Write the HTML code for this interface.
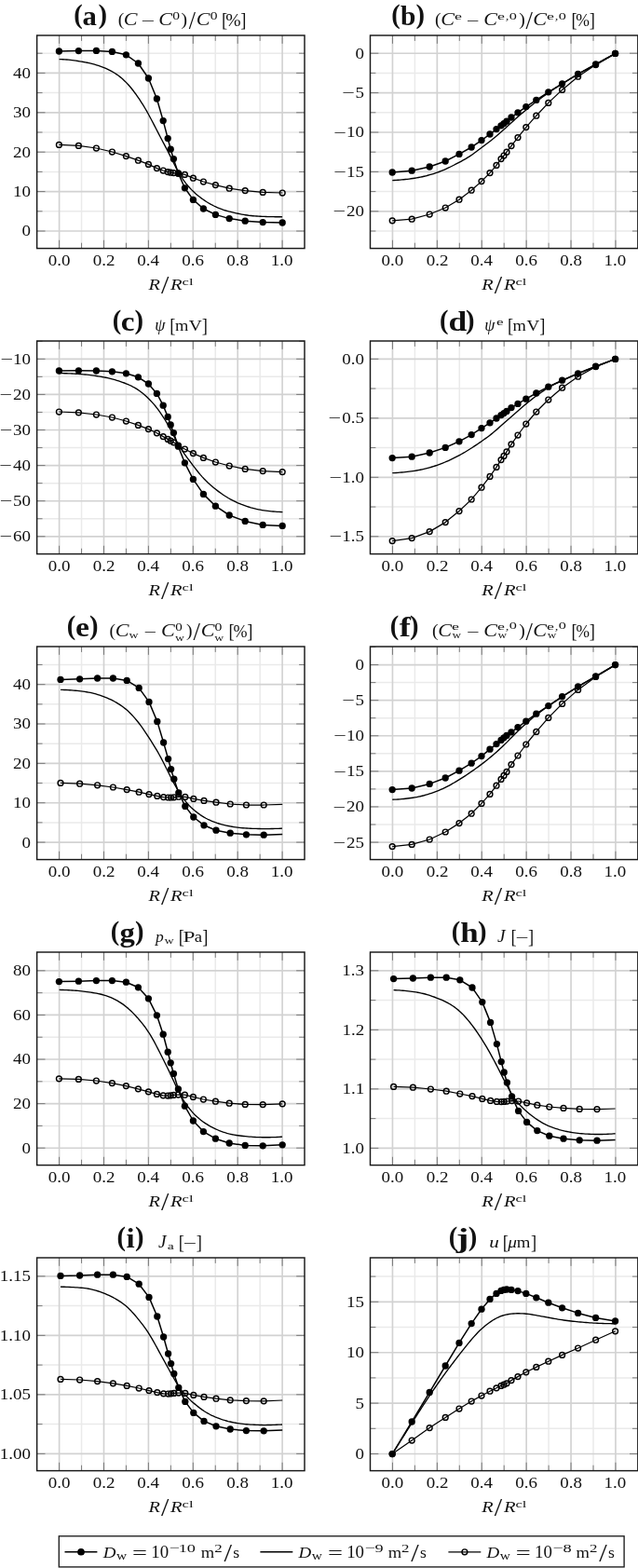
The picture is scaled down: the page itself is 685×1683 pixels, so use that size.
<!DOCTYPE html>
<html><head><meta charset="utf-8"><title>Figure</title>
<style>html,body{margin:0;padding:0;background:#fff}svg{display:block}text{font-family:"Liberation Serif",serif;fill:#111}</style>
</head><body>
<svg width="685" height="1683" viewBox="0 0 685 1683">
<rect width="685" height="1683" fill="#fff"/>
<path d="M87.55 38V266.6M135.45 38V266.6M183.35 38V266.6M231.25 38V266.6M279.15 38V266.6M39.65 226.8H327M39.65 184.4H327M39.65 142H327M39.65 99.6H327M39.65 57.2H327" stroke="#eaeaea" stroke-width="1.5" fill="none"/>
<path d="M63.6 38V266.6M111.5 38V266.6M159.4 38V266.6M207.3 38V266.6M255.2 38V266.6M303.1 38V266.6M39.65 248H327M39.65 205.6H327M39.65 163.2H327M39.65 120.8H327M39.65 78.4H327" stroke="#d2d2d2" stroke-width="1.65" fill="none"/>
<path d="M87.55 38v5.9 M87.55 266.6v-5.9M135.45 38v5.9 M135.45 266.6v-5.9M183.35 38v5.9 M183.35 266.6v-5.9M231.25 38v5.9 M231.25 266.6v-5.9M279.15 38v5.9 M279.15 266.6v-5.9M39.65 226.8h5.9 M327 226.8h-5.9M39.65 184.4h5.9 M327 184.4h-5.9M39.65 142h5.9 M327 142h-5.9M39.65 99.6h5.9 M327 99.6h-5.9M39.65 57.2h5.9 M327 57.2h-5.9M63.6 38v8.85 M63.6 266.6v-8.85M111.5 38v8.85 M111.5 266.6v-8.85M159.4 38v8.85 M159.4 266.6v-8.85M207.3 38v8.85 M207.3 266.6v-8.85M255.2 38v8.85 M255.2 266.6v-8.85M303.1 38v8.85 M303.1 266.6v-8.85M39.65 248h8.85 M327 248h-8.85M39.65 205.6h8.85 M327 205.6h-8.85M39.65 163.2h8.85 M327 163.2h-8.85M39.65 120.8h8.85 M327 120.8h-8.85M39.65 78.4h8.85 M327 78.4h-8.85" stroke="#6e6e6e" stroke-width="0.9" fill="none"/>
<path d="M63.6 63.64 L65.6 63.69 L67.6 63.77 L69.6 63.87 L71.6 64 L73.6 64.15 L75.6 64.35 L77.6 64.58 L79.6 64.85 L81.6 65.16 L83.6 65.48 L85.6 65.82 L87.6 66.17 L89.6 66.52 L91.6 66.88 L93.6 67.27 L95.6 67.68 L97.6 68.14 L99.6 68.64 L101.6 69.19 L103.6 69.78 L105.6 70.42 L107.6 71.1 L109.6 71.83 L111.6 72.6 L113.6 73.43 L115.6 74.33 L117.6 75.3 L119.6 76.34 L121.6 77.48 L123.6 78.72 L125.6 80.07 L127.6 81.53 L129.6 83.11 L131.6 84.82 L133.6 86.66 L135.6 88.64 L137.6 90.77 L139.6 93.05 L141.6 95.48 L143.6 98.04 L145.6 100.73 L147.6 103.55 L149.6 106.48 L151.6 109.54 L153.6 112.72 L155.6 116.02 L157.6 119.46 L159.6 123.03 L161.6 126.72 L163.6 130.5 L165.6 134.35 L167.6 138.23 L169.6 142.1 L171.6 145.96 L173.6 149.78 L175.6 153.58 L177.6 157.39 L179.6 161.24 L181.6 165.17 L183.6 169.17 L185.6 173.22 L187.6 177.24 L189.6 181.14 L191.6 184.82 L193.6 188.22 L195.6 191.34 L197.6 194.19 L199.6 196.81 L201.6 199.24 L203.6 201.5 L205.6 203.61 L207.6 205.58 L209.6 207.43 L211.6 209.17 L213.6 210.8 L215.6 212.34 L217.6 213.79 L219.6 215.17 L221.6 216.48 L223.6 217.71 L225.6 218.88 L227.6 219.97 L229.6 220.99 L231.6 221.94 L233.6 222.82 L235.6 223.64 L237.6 224.4 L239.6 225.11 L241.6 225.77 L243.6 226.38 L245.6 226.95 L247.6 227.47 L249.6 227.96 L251.6 228.42 L253.6 228.86 L255.6 229.28 L257.6 229.69 L259.6 230.07 L261.6 230.43 L263.6 230.75 L265.6 231.04 L267.6 231.3 L269.6 231.52 L271.6 231.72 L273.6 231.89 L275.6 232.04 L277.6 232.16 L279.6 232.27 L281.6 232.35 L283.6 232.43 L285.6 232.49 L287.6 232.55 L289.6 232.6 L291.6 232.65 L293.6 232.69 L295.6 232.72 L297.6 232.75 L299.6 232.77 L301.6 232.78 L303.1 232.79" stroke="#000" stroke-width="1.35" fill="none" stroke-linejoin="round"/>
<path d="M63.4 155.4 L84.4 156.4 L103.4 159 L120.4 163 L135.4 167.6 L148.4 172.2 L159.4 176.4 L168.4 180.6 L175.2 183 L180.2 184.6 L183.2 185.2 L186.4 185.6 L191.4 186.2 L198.4 187.4 L207.4 191.2 L218.4 195 L231.4 198.6 L246.2 202.2 L263.2 204.6 L282.2 206.4 L303.2 207" stroke="#000" stroke-width="1.25" fill="none" stroke-linejoin="round"/>
<circle cx="63.4" cy="155.4" r="2.9" fill="none" stroke="#000" stroke-width="1.45"/>
<circle cx="84.4" cy="156.4" r="2.9" fill="none" stroke="#000" stroke-width="1.45"/>
<circle cx="103.4" cy="159" r="2.9" fill="none" stroke="#000" stroke-width="1.45"/>
<circle cx="120.4" cy="163" r="2.9" fill="none" stroke="#000" stroke-width="1.45"/>
<circle cx="135.4" cy="167.6" r="2.9" fill="none" stroke="#000" stroke-width="1.45"/>
<circle cx="148.4" cy="172.2" r="2.9" fill="none" stroke="#000" stroke-width="1.45"/>
<circle cx="159.4" cy="176.4" r="2.9" fill="none" stroke="#000" stroke-width="1.45"/>
<circle cx="168.4" cy="180.6" r="2.9" fill="none" stroke="#000" stroke-width="1.45"/>
<circle cx="175.2" cy="183" r="2.9" fill="none" stroke="#000" stroke-width="1.45"/>
<circle cx="180.2" cy="184.6" r="2.9" fill="none" stroke="#000" stroke-width="1.45"/>
<circle cx="183.2" cy="185.2" r="2.9" fill="none" stroke="#000" stroke-width="1.45"/>
<circle cx="186.4" cy="185.6" r="2.9" fill="none" stroke="#000" stroke-width="1.45"/>
<circle cx="191.4" cy="186.2" r="2.9" fill="none" stroke="#000" stroke-width="1.45"/>
<circle cx="198.4" cy="187.4" r="2.9" fill="none" stroke="#000" stroke-width="1.45"/>
<circle cx="207.4" cy="191.2" r="2.9" fill="none" stroke="#000" stroke-width="1.45"/>
<circle cx="218.4" cy="195" r="2.9" fill="none" stroke="#000" stroke-width="1.45"/>
<circle cx="231.4" cy="198.6" r="2.9" fill="none" stroke="#000" stroke-width="1.45"/>
<circle cx="246.2" cy="202.2" r="2.9" fill="none" stroke="#000" stroke-width="1.45"/>
<circle cx="263.2" cy="204.6" r="2.9" fill="none" stroke="#000" stroke-width="1.45"/>
<circle cx="282.2" cy="206.4" r="2.9" fill="none" stroke="#000" stroke-width="1.45"/>
<circle cx="303.2" cy="207" r="2.9" fill="none" stroke="#000" stroke-width="1.45"/>
<path d="M63.4 55 L84.4 54.6 L103.4 54.4 L120.4 55.4 L135.4 58.8 L148.4 68 L159.4 84 L168.4 106 L175.2 129.6 L180.2 148.6 L183.2 160.2 L186.4 170.6 L191.4 186 L198.4 201.8 L207.4 214.4 L218.4 224 L231.4 230.4 L246.2 234.6 L263.2 237.2 L282.2 238.6 L303.2 239" stroke="#000" stroke-width="1.5" fill="none" stroke-linejoin="round"/>
<circle cx="63.4" cy="55" r="3.65"/>
<circle cx="84.4" cy="54.6" r="3.65"/>
<circle cx="103.4" cy="54.4" r="3.65"/>
<circle cx="120.4" cy="55.4" r="3.65"/>
<circle cx="135.4" cy="58.8" r="3.65"/>
<circle cx="148.4" cy="68" r="3.65"/>
<circle cx="159.4" cy="84" r="3.65"/>
<circle cx="168.4" cy="106" r="3.65"/>
<circle cx="175.2" cy="129.6" r="3.65"/>
<circle cx="180.2" cy="148.6" r="3.65"/>
<circle cx="183.2" cy="160.2" r="3.65"/>
<circle cx="186.4" cy="170.6" r="3.65"/>
<circle cx="191.4" cy="186" r="3.65"/>
<circle cx="198.4" cy="201.8" r="3.65"/>
<circle cx="207.4" cy="214.4" r="3.65"/>
<circle cx="218.4" cy="224" r="3.65"/>
<circle cx="231.4" cy="230.4" r="3.65"/>
<circle cx="246.2" cy="234.6" r="3.65"/>
<circle cx="263.2" cy="237.2" r="3.65"/>
<circle cx="282.2" cy="238.6" r="3.65"/>
<circle cx="303.2" cy="239" r="3.65"/>
<rect x="39.65" y="38" width="287.35" height="228.6" fill="none" stroke="#181818" stroke-width="1.45"/>
<text transform="matrix(1.1800 0 0 1 51.73 285.10)" font-size="16.1">0.0</text>
<text transform="matrix(1.1800 0 0 1 99.79 285.10)" font-size="16.1">0.2</text>
<text transform="matrix(1.1800 0 0 1 147.31 285.10)" font-size="16.1">0.4</text>
<text transform="matrix(1.1800 0 0 1 195.36 285.10)" font-size="16.1">0.6</text>
<text transform="matrix(1.1800 0 0 1 243.33 285.10)" font-size="16.1">0.8</text>
<text transform="matrix(1.1800 0 0 1 290.75 285.10)" font-size="16.1">1.0</text>
<text transform="matrix(1.1686 0 0 1 159.43 311.30)" font-size="17.4" font-style="italic">R</text>
<text transform="matrix(1.1295 0 0 1 172.92 315.30)" font-size="26.8">/</text>
<text transform="matrix(1.1877 0 0 1 183.03 311.30)" font-size="17.4" font-style="italic">R</text>
<text transform="matrix(1.4769 0 0 1 195.60 306.00)" font-size="11.2">cl</text>
<text transform="matrix(1.1800 0 0 1 23.56 253.45)" font-size="16.1">0</text>
<text transform="matrix(1.1800 0 0 1 14.06 211.05)" font-size="16.1">10</text>
<text transform="matrix(1.1800 0 0 1 14.06 168.65)" font-size="16.1">20</text>
<text transform="matrix(1.1800 0 0 1 14.06 126.25)" font-size="16.1">30</text>
<text transform="matrix(1.1800 0 0 1 14.06 83.85)" font-size="16.1">40</text>
<text transform="matrix(1.0000 0 0 1 79.28 25.40)" font-size="28.6" font-weight="bold" fill="#000">(</text>
<text transform="matrix(1.0741 0 0 1 88.60 27.00)" font-size="28.6" font-weight="bold" fill="#000">a</text>
<text transform="matrix(1.0000 0 0 1 105.41 25.40)" font-size="28.6" font-weight="bold" fill="#000">)</text>
<text transform="matrix(1.0000 0 0 1 126.87 26.70)" font-size="19.6">(</text>
<text transform="matrix(1.2000 0 0 1 132.69 27.00)" font-size="18.4" font-style="italic">C</text>
<text transform="matrix(1.6263 0 0 1 151.50 28.00)" font-size="16">−</text>
<text transform="matrix(1.2000 0 0 1 170.29 27.00)" font-size="18.4" font-style="italic">C</text>
<text transform="matrix(1.2524 0 0 1 185.32 21.30)" font-size="12.4">0</text>
<text transform="matrix(1.0000 0 0 1 194.46 26.70)" font-size="19.6">)</text>
<text transform="matrix(0.9865 0 0 1 202.80 30.60)" font-size="26.3">/</text>
<text transform="matrix(1.2000 0 0 1 210.69 27.00)" font-size="18.4" font-style="italic">C</text>
<text transform="matrix(1.2524 0 0 1 225.72 21.30)" font-size="12.4">0</text>
<text transform="matrix(0.8500 0 0 1 237.91 28.30)" font-size="21.8">[</text>
<text transform="matrix(1.0055 0 0 1 242.31 27.70)" font-size="19.5">%</text>
<text transform="matrix(0.8500 0 0 1 258.25 28.30)" font-size="21.8">]</text>
<path d="M445.4 38V266.6M493.3 38V266.6M541.2 38V266.6M589.1 38V266.6M637 38V266.6M397.5 248H684.85M397.5 205.6H684.85M397.5 163.2H684.85M397.5 120.8H684.85M397.5 78.4H684.85" stroke="#eaeaea" stroke-width="1.5" fill="none"/>
<path d="M421.45 38V266.6M469.35 38V266.6M517.25 38V266.6M565.15 38V266.6M613.05 38V266.6M660.95 38V266.6M397.5 226.8H684.85M397.5 184.4H684.85M397.5 142H684.85M397.5 99.6H684.85M397.5 57.2H684.85" stroke="#d2d2d2" stroke-width="1.65" fill="none"/>
<path d="M445.4 38v5.9 M445.4 266.6v-5.9M493.3 38v5.9 M493.3 266.6v-5.9M541.2 38v5.9 M541.2 266.6v-5.9M589.1 38v5.9 M589.1 266.6v-5.9M637 38v5.9 M637 266.6v-5.9M397.5 248h5.9 M684.85 248h-5.9M397.5 205.6h5.9 M684.85 205.6h-5.9M397.5 163.2h5.9 M684.85 163.2h-5.9M397.5 120.8h5.9 M684.85 120.8h-5.9M397.5 78.4h5.9 M684.85 78.4h-5.9M421.45 38v8.85 M421.45 266.6v-8.85M469.35 38v8.85 M469.35 266.6v-8.85M517.25 38v8.85 M517.25 266.6v-8.85M565.15 38v8.85 M565.15 266.6v-8.85M613.05 38v8.85 M613.05 266.6v-8.85M660.95 38v8.85 M660.95 266.6v-8.85M397.5 226.8h8.85 M684.85 226.8h-8.85M397.5 184.4h8.85 M684.85 184.4h-8.85M397.5 142h8.85 M684.85 142h-8.85M397.5 99.6h8.85 M684.85 99.6h-8.85M397.5 57.2h8.85 M684.85 57.2h-8.85" stroke="#6e6e6e" stroke-width="0.9" fill="none"/>
<path d="M421.3 193.57 L423.3 193.48 L425.3 193.37 L427.3 193.25 L429.3 193.1 L431.3 192.93 L433.3 192.74 L435.3 192.53 L437.3 192.3 L439.3 192.05 L441.3 191.79 L443.3 191.51 L445.3 191.21 L447.3 190.89 L449.3 190.53 L451.3 190.15 L453.3 189.73 L455.3 189.27 L457.3 188.79 L459.3 188.27 L461.3 187.72 L463.3 187.15 L465.3 186.54 L467.3 185.9 L469.3 185.23 L471.3 184.51 L473.3 183.74 L475.3 182.93 L477.3 182.07 L479.3 181.16 L481.3 180.22 L483.3 179.24 L485.3 178.24 L487.3 177.23 L489.3 176.19 L491.3 175.15 L493.3 174.1 L495.3 173.03 L497.3 171.94 L499.3 170.82 L501.3 169.65 L503.3 168.42 L505.3 167.12 L507.3 165.74 L509.3 164.3 L511.3 162.8 L513.3 161.27 L515.3 159.74 L517.3 158.22 L519.3 156.71 L521.3 155.22 L523.3 153.73 L525.3 152.21 L527.3 150.66 L529.3 149.06 L531.3 147.42 L533.3 145.73 L535.3 144 L537.3 142.25 L539.3 140.48 L541.3 138.7 L543.3 136.92 L545.3 135.12 L547.3 133.32 L549.3 131.5 L551.3 129.68 L553.3 127.86 L555.3 126.06 L557.3 124.29 L559.3 122.57 L561.3 120.87 L563.3 119.2 L565.3 117.55 L567.3 115.91 L569.3 114.28 L571.3 112.66 L573.3 111.07 L575.3 109.51 L577.3 107.99 L579.3 106.49 L581.3 105.02 L583.3 103.55 L585.3 102.09 L587.3 100.63 L589.3 99.19 L591.3 97.79 L593.3 96.44 L595.3 95.13 L597.3 93.87 L599.3 92.63 L601.3 91.4 L603.3 90.17 L605.3 88.95 L607.3 87.72 L609.3 86.49 L611.3 85.26 L613.3 84.04 L615.3 82.82 L617.3 81.62 L619.3 80.44 L621.3 79.28 L623.3 78.13 L625.3 77.01 L627.3 75.89 L629.3 74.79 L631.3 73.7 L633.3 72.61 L635.3 71.53 L637.3 70.44 L639.3 69.34 L641.3 68.25 L643.3 67.15 L645.3 66.04 L647.3 64.93 L649.3 63.82 L651.3 62.71 L653.3 61.59 L655.3 60.48 L657.3 59.36 L659.3 58.24 L660.8 57.4" stroke="#000" stroke-width="1.35" fill="none" stroke-linejoin="round"/>
<path d="M421.2 236.8 L442.2 235.2 L461.2 230 L478.2 223 L493 214.2 L506.2 204.2 L517 194.6 L526 185.6 L533 177.4 L538 170.6 L541 167 L544 163.2 L549 156.6 L556 147.6 L564.8 136.6 L575.8 124.2 L588.8 110.4 L603.6 96.4 L620.6 82.2 L639.6 69.6 L660.6 57.4" stroke="#000" stroke-width="1.25" fill="none" stroke-linejoin="round"/>
<circle cx="421.2" cy="236.8" r="2.9" fill="none" stroke="#000" stroke-width="1.45"/>
<circle cx="442.2" cy="235.2" r="2.9" fill="none" stroke="#000" stroke-width="1.45"/>
<circle cx="461.2" cy="230" r="2.9" fill="none" stroke="#000" stroke-width="1.45"/>
<circle cx="478.2" cy="223" r="2.9" fill="none" stroke="#000" stroke-width="1.45"/>
<circle cx="493" cy="214.2" r="2.9" fill="none" stroke="#000" stroke-width="1.45"/>
<circle cx="506.2" cy="204.2" r="2.9" fill="none" stroke="#000" stroke-width="1.45"/>
<circle cx="517" cy="194.6" r="2.9" fill="none" stroke="#000" stroke-width="1.45"/>
<circle cx="526" cy="185.6" r="2.9" fill="none" stroke="#000" stroke-width="1.45"/>
<circle cx="533" cy="177.4" r="2.9" fill="none" stroke="#000" stroke-width="1.45"/>
<circle cx="538" cy="170.6" r="2.9" fill="none" stroke="#000" stroke-width="1.45"/>
<circle cx="541" cy="167" r="2.9" fill="none" stroke="#000" stroke-width="1.45"/>
<circle cx="544" cy="163.2" r="2.9" fill="none" stroke="#000" stroke-width="1.45"/>
<circle cx="549" cy="156.6" r="2.9" fill="none" stroke="#000" stroke-width="1.45"/>
<circle cx="556" cy="147.6" r="2.9" fill="none" stroke="#000" stroke-width="1.45"/>
<circle cx="564.8" cy="136.6" r="2.9" fill="none" stroke="#000" stroke-width="1.45"/>
<circle cx="575.8" cy="124.2" r="2.9" fill="none" stroke="#000" stroke-width="1.45"/>
<circle cx="588.8" cy="110.4" r="2.9" fill="none" stroke="#000" stroke-width="1.45"/>
<circle cx="603.6" cy="96.4" r="2.9" fill="none" stroke="#000" stroke-width="1.45"/>
<circle cx="620.6" cy="82.2" r="2.9" fill="none" stroke="#000" stroke-width="1.45"/>
<circle cx="639.6" cy="69.6" r="2.9" fill="none" stroke="#000" stroke-width="1.45"/>
<circle cx="660.6" cy="57.4" r="2.9" fill="none" stroke="#000" stroke-width="1.45"/>
<path d="M421.2 185 L442.2 183.2 L461.2 179 L478.2 173 L493 165.4 L506.2 158 L517 150.6 L526 144 L533 138.6 L538 134.8 L541 132.6 L544 130.2 L549 126 L556 120.8 L564.8 114.6 L575.8 107.4 L588.8 98.8 L603.6 89.8 L620.6 79.4 L639.6 69 L660.6 57.4" stroke="#000" stroke-width="1.5" fill="none" stroke-linejoin="round"/>
<circle cx="421.2" cy="185" r="3.65"/>
<circle cx="442.2" cy="183.2" r="3.65"/>
<circle cx="461.2" cy="179" r="3.65"/>
<circle cx="478.2" cy="173" r="3.65"/>
<circle cx="493" cy="165.4" r="3.65"/>
<circle cx="506.2" cy="158" r="3.65"/>
<circle cx="517" cy="150.6" r="3.65"/>
<circle cx="526" cy="144" r="3.65"/>
<circle cx="533" cy="138.6" r="3.65"/>
<circle cx="538" cy="134.8" r="3.65"/>
<circle cx="541" cy="132.6" r="3.65"/>
<circle cx="544" cy="130.2" r="3.65"/>
<circle cx="549" cy="126" r="3.65"/>
<circle cx="556" cy="120.8" r="3.65"/>
<circle cx="564.8" cy="114.6" r="3.65"/>
<circle cx="575.8" cy="107.4" r="3.65"/>
<circle cx="588.8" cy="98.8" r="3.65"/>
<circle cx="603.6" cy="89.8" r="3.65"/>
<circle cx="620.6" cy="79.4" r="3.65"/>
<circle cx="639.6" cy="69" r="3.65"/>
<circle cx="660.6" cy="57.4" r="3.65"/>
<rect x="397.5" y="38" width="287.35" height="228.6" fill="none" stroke="#181818" stroke-width="1.45"/>
<text transform="matrix(1.1800 0 0 1 409.58 285.10)" font-size="16.1">0.0</text>
<text transform="matrix(1.1800 0 0 1 457.64 285.10)" font-size="16.1">0.2</text>
<text transform="matrix(1.1800 0 0 1 505.16 285.10)" font-size="16.1">0.4</text>
<text transform="matrix(1.1800 0 0 1 553.21 285.10)" font-size="16.1">0.6</text>
<text transform="matrix(1.1800 0 0 1 601.18 285.10)" font-size="16.1">0.8</text>
<text transform="matrix(1.1800 0 0 1 648.60 285.10)" font-size="16.1">1.0</text>
<text transform="matrix(1.1686 0 0 1 517.28 311.30)" font-size="17.4" font-style="italic">R</text>
<text transform="matrix(1.1295 0 0 1 530.77 315.30)" font-size="26.8">/</text>
<text transform="matrix(1.1877 0 0 1 540.88 311.30)" font-size="17.4" font-style="italic">R</text>
<text transform="matrix(1.4769 0 0 1 553.45 306.00)" font-size="11.2">cl</text>
<text transform="matrix(1.1800 0 0 1 371.91 232.25)" font-size="16.1">20</text>
<text transform="matrix(1.5 0 0 1 371.03 232.45)" font-size="16.1" text-anchor="end">−</text>
<text transform="matrix(1.1800 0 0 1 371.96 189.85)" font-size="16.1">15</text>
<text transform="matrix(1.5 0 0 1 371.93 190.05)" font-size="16.1" text-anchor="end">−</text>
<text transform="matrix(1.1800 0 0 1 371.91 147.45)" font-size="16.1">10</text>
<text transform="matrix(1.5 0 0 1 371.88 147.65)" font-size="16.1" text-anchor="end">−</text>
<text transform="matrix(1.1800 0 0 1 381.46 105.05)" font-size="16.1">5</text>
<text transform="matrix(1.5 0 0 1 380.86 105.25)" font-size="16.1" text-anchor="end">−</text>
<text transform="matrix(1.1800 0 0 1 381.41 62.65)" font-size="16.1">0</text>
<text transform="matrix(1.0000 0 0 1 420.28 25.40)" font-size="28.6" font-weight="bold" fill="#000">(</text>
<text transform="matrix(1.0298 0 0 1 429.93 27.00)" font-size="28.6" font-weight="bold" fill="#000">b</text>
<text transform="matrix(1.0000 0 0 1 446.51 25.40)" font-size="28.6" font-weight="bold" fill="#000">)</text>
<text transform="matrix(1.0000 0 0 1 467.07 26.70)" font-size="19.6">(</text>
<text transform="matrix(1.2000 0 0 1 473.19 27.00)" font-size="18.4" font-style="italic">C</text>
<text transform="matrix(1.7838 0 0 1 487.99 20.80)" font-size="10">e</text>
<text transform="matrix(1.5323 0 0 1 500.87 28.00)" font-size="16">−</text>
<text transform="matrix(1.2000 0 0 1 519.29 27.00)" font-size="18.4" font-style="italic">C</text>
<text transform="matrix(1.7838 0 0 1 533.89 20.80)" font-size="10">e</text>
<text transform="matrix(1.4667 0 0 1 542.85 21.00)" font-size="10">,</text>
<text transform="matrix(1.6399 0 0 1 546.79 20.60)" font-size="9.9">0</text>
<text transform="matrix(1.0000 0 0 1 557.16 26.70)" font-size="19.6">)</text>
<text transform="matrix(1.0139 0 0 1 564.60 30.60)" font-size="26.3">/</text>
<text transform="matrix(1.2000 0 0 1 572.29 27.00)" font-size="18.4" font-style="italic">C</text>
<text transform="matrix(1.7838 0 0 1 586.99 20.80)" font-size="10">e</text>
<text transform="matrix(1.4667 0 0 1 595.85 21.00)" font-size="10">,</text>
<text transform="matrix(1.6399 0 0 1 599.79 20.60)" font-size="9.9">0</text>
<text transform="matrix(0.8500 0 0 1 613.51 28.30)" font-size="21.8">[</text>
<text transform="matrix(0.9050 0 0 1 618.28 27.70)" font-size="19.5">%</text>
<text transform="matrix(0.8500 0 0 1 632.65 28.30)" font-size="21.8">]</text>
<path d="M87.55 366V594.6M135.45 366V594.6M183.35 366V594.6M231.25 366V594.6M279.15 366V594.6M39.65 556.75H327M39.65 518.65H327M39.65 480.55H327M39.65 442.45H327M39.65 404.35H327M39.65 366.25H327" stroke="#eaeaea" stroke-width="1.5" fill="none"/>
<path d="M63.6 366V594.6M111.5 366V594.6M159.4 366V594.6M207.3 366V594.6M255.2 366V594.6M303.1 366V594.6M39.65 575.8H327M39.65 537.7H327M39.65 499.6H327M39.65 461.5H327M39.65 423.4H327M39.65 385.3H327" stroke="#d2d2d2" stroke-width="1.65" fill="none"/>
<path d="M87.55 366v5.9 M87.55 594.6v-5.9M135.45 366v5.9 M135.45 594.6v-5.9M183.35 366v5.9 M183.35 594.6v-5.9M231.25 366v5.9 M231.25 594.6v-5.9M279.15 366v5.9 M279.15 594.6v-5.9M39.65 556.75h5.9 M327 556.75h-5.9M39.65 518.65h5.9 M327 518.65h-5.9M39.65 480.55h5.9 M327 480.55h-5.9M39.65 442.45h5.9 M327 442.45h-5.9M39.65 404.35h5.9 M327 404.35h-5.9M39.65 366.25h5.9 M327 366.25h-5.9M63.6 366v8.85 M63.6 594.6v-8.85M111.5 366v8.85 M111.5 594.6v-8.85M159.4 366v8.85 M159.4 594.6v-8.85M207.3 366v8.85 M207.3 594.6v-8.85M255.2 366v8.85 M255.2 594.6v-8.85M303.1 366v8.85 M303.1 594.6v-8.85M39.65 575.8h8.85 M327 575.8h-8.85M39.65 537.7h8.85 M327 537.7h-8.85M39.65 499.6h8.85 M327 499.6h-8.85M39.65 461.5h8.85 M327 461.5h-8.85M39.65 423.4h8.85 M327 423.4h-8.85M39.65 385.3h8.85 M327 385.3h-8.85" stroke="#6e6e6e" stroke-width="0.9" fill="none"/>
<path d="M63.4 400.62 L65.4 400.65 L67.4 400.68 L69.4 400.73 L71.4 400.79 L73.4 400.86 L75.4 400.94 L77.4 401.04 L79.4 401.14 L81.4 401.25 L83.4 401.37 L85.4 401.5 L87.4 401.65 L89.4 401.81 L91.4 401.99 L93.4 402.18 L95.4 402.4 L97.4 402.65 L99.4 402.91 L101.4 403.19 L103.4 403.49 L105.4 403.81 L107.4 404.14 L109.4 404.5 L111.4 404.87 L113.4 405.27 L115.4 405.7 L117.4 406.16 L119.4 406.65 L121.4 407.17 L123.4 407.72 L125.4 408.31 L127.4 408.93 L129.4 409.58 L131.4 410.27 L133.4 411 L135.4 411.77 L137.4 412.61 L139.4 413.5 L141.4 414.48 L143.4 415.53 L145.4 416.67 L147.4 417.92 L149.4 419.27 L151.4 420.73 L153.4 422.31 L155.4 423.99 L157.4 425.79 L159.4 427.69 L161.4 429.7 L163.4 431.84 L165.4 434.12 L167.4 436.54 L169.4 439.13 L171.4 441.88 L173.4 444.78 L175.4 447.82 L177.4 451.01 L179.4 454.36 L181.4 457.9 L183.4 461.63 L185.4 465.51 L187.4 469.43 L189.4 473.27 L191.4 476.91 L193.4 480.28 L195.4 483.39 L197.4 486.29 L199.4 489.07 L201.4 491.8 L203.4 494.5 L205.4 497.18 L207.4 499.84 L209.4 502.45 L211.4 505 L213.4 507.47 L215.4 509.84 L217.4 512.09 L219.4 514.24 L221.4 516.27 L223.4 518.19 L225.4 520.02 L227.4 521.76 L229.4 523.44 L231.4 525.05 L233.4 526.61 L235.4 528.11 L237.4 529.56 L239.4 530.95 L241.4 532.28 L243.4 533.54 L245.4 534.74 L247.4 535.87 L249.4 536.94 L251.4 537.95 L253.4 538.91 L255.4 539.82 L257.4 540.67 L259.4 541.48 L261.4 542.23 L263.4 542.94 L265.4 543.61 L267.4 544.24 L269.4 544.84 L271.4 545.39 L273.4 545.91 L275.4 546.39 L277.4 546.82 L279.4 547.21 L281.4 547.56 L283.4 547.87 L285.4 548.15 L287.4 548.4 L289.4 548.63 L291.4 548.84 L293.4 549.02 L295.4 549.18 L297.4 549.31 L299.4 549.42 L301.4 549.5 L303.4 549.56" stroke="#000" stroke-width="1.35" fill="none" stroke-linejoin="round"/>
<path d="M63.4 442 L84.4 442.8 L103.4 445 L120.4 448 L135.4 452 L148.4 456.4 L159.4 460.6 L168.4 464.8 L175.2 468.6 L180.2 471.4 L183.2 473.2 L186.4 474.8 L191.4 478 L198.4 482 L207.4 486.6 L218.4 491.4 L231.4 496 L246.2 500 L263.2 503.4 L282.2 505.6 L303.2 506.6" stroke="#000" stroke-width="1.25" fill="none" stroke-linejoin="round"/>
<circle cx="63.4" cy="442" r="2.9" fill="none" stroke="#000" stroke-width="1.45"/>
<circle cx="84.4" cy="442.8" r="2.9" fill="none" stroke="#000" stroke-width="1.45"/>
<circle cx="103.4" cy="445" r="2.9" fill="none" stroke="#000" stroke-width="1.45"/>
<circle cx="120.4" cy="448" r="2.9" fill="none" stroke="#000" stroke-width="1.45"/>
<circle cx="135.4" cy="452" r="2.9" fill="none" stroke="#000" stroke-width="1.45"/>
<circle cx="148.4" cy="456.4" r="2.9" fill="none" stroke="#000" stroke-width="1.45"/>
<circle cx="159.4" cy="460.6" r="2.9" fill="none" stroke="#000" stroke-width="1.45"/>
<circle cx="168.4" cy="464.8" r="2.9" fill="none" stroke="#000" stroke-width="1.45"/>
<circle cx="175.2" cy="468.6" r="2.9" fill="none" stroke="#000" stroke-width="1.45"/>
<circle cx="180.2" cy="471.4" r="2.9" fill="none" stroke="#000" stroke-width="1.45"/>
<circle cx="183.2" cy="473.2" r="2.9" fill="none" stroke="#000" stroke-width="1.45"/>
<circle cx="186.4" cy="474.8" r="2.9" fill="none" stroke="#000" stroke-width="1.45"/>
<circle cx="191.4" cy="478" r="2.9" fill="none" stroke="#000" stroke-width="1.45"/>
<circle cx="198.4" cy="482" r="2.9" fill="none" stroke="#000" stroke-width="1.45"/>
<circle cx="207.4" cy="486.6" r="2.9" fill="none" stroke="#000" stroke-width="1.45"/>
<circle cx="218.4" cy="491.4" r="2.9" fill="none" stroke="#000" stroke-width="1.45"/>
<circle cx="231.4" cy="496" r="2.9" fill="none" stroke="#000" stroke-width="1.45"/>
<circle cx="246.2" cy="500" r="2.9" fill="none" stroke="#000" stroke-width="1.45"/>
<circle cx="263.2" cy="503.4" r="2.9" fill="none" stroke="#000" stroke-width="1.45"/>
<circle cx="282.2" cy="505.6" r="2.9" fill="none" stroke="#000" stroke-width="1.45"/>
<circle cx="303.2" cy="506.6" r="2.9" fill="none" stroke="#000" stroke-width="1.45"/>
<path d="M63.4 398 L84.4 397.8 L103.4 398 L120.4 398.8 L135.4 400.8 L148.4 404.8 L159.4 412 L168.4 422.4 L175.2 435.2 L180.2 447.4 L183.2 456 L186.4 464.6 L191.4 479.2 L198.4 496.8 L207.4 514.4 L218.4 530.4 L231.4 543.2 L246.2 553 L263.2 559.4 L282.2 563.4 L303.2 564.4" stroke="#000" stroke-width="1.5" fill="none" stroke-linejoin="round"/>
<circle cx="63.4" cy="398" r="3.65"/>
<circle cx="84.4" cy="397.8" r="3.65"/>
<circle cx="103.4" cy="398" r="3.65"/>
<circle cx="120.4" cy="398.8" r="3.65"/>
<circle cx="135.4" cy="400.8" r="3.65"/>
<circle cx="148.4" cy="404.8" r="3.65"/>
<circle cx="159.4" cy="412" r="3.65"/>
<circle cx="168.4" cy="422.4" r="3.65"/>
<circle cx="175.2" cy="435.2" r="3.65"/>
<circle cx="180.2" cy="447.4" r="3.65"/>
<circle cx="183.2" cy="456" r="3.65"/>
<circle cx="186.4" cy="464.6" r="3.65"/>
<circle cx="191.4" cy="479.2" r="3.65"/>
<circle cx="198.4" cy="496.8" r="3.65"/>
<circle cx="207.4" cy="514.4" r="3.65"/>
<circle cx="218.4" cy="530.4" r="3.65"/>
<circle cx="231.4" cy="543.2" r="3.65"/>
<circle cx="246.2" cy="553" r="3.65"/>
<circle cx="263.2" cy="559.4" r="3.65"/>
<circle cx="282.2" cy="563.4" r="3.65"/>
<circle cx="303.2" cy="564.4" r="3.65"/>
<rect x="39.65" y="366" width="287.35" height="228.6" fill="none" stroke="#181818" stroke-width="1.45"/>
<text transform="matrix(1.1800 0 0 1 51.73 613.10)" font-size="16.1">0.0</text>
<text transform="matrix(1.1800 0 0 1 99.79 613.10)" font-size="16.1">0.2</text>
<text transform="matrix(1.1800 0 0 1 147.31 613.10)" font-size="16.1">0.4</text>
<text transform="matrix(1.1800 0 0 1 195.36 613.10)" font-size="16.1">0.6</text>
<text transform="matrix(1.1800 0 0 1 243.33 613.10)" font-size="16.1">0.8</text>
<text transform="matrix(1.1800 0 0 1 290.75 613.10)" font-size="16.1">1.0</text>
<text transform="matrix(1.1686 0 0 1 159.43 639.30)" font-size="17.4" font-style="italic">R</text>
<text transform="matrix(1.1295 0 0 1 172.92 643.30)" font-size="26.8">/</text>
<text transform="matrix(1.1877 0 0 1 183.03 639.30)" font-size="17.4" font-style="italic">R</text>
<text transform="matrix(1.4769 0 0 1 195.60 634.00)" font-size="11.2">cl</text>
<text transform="matrix(1.1800 0 0 1 14.06 581.25)" font-size="16.1">60</text>
<text transform="matrix(1.5 0 0 1 13.18 581.45)" font-size="16.1" text-anchor="end">−</text>
<text transform="matrix(1.1800 0 0 1 14.06 543.15)" font-size="16.1">50</text>
<text transform="matrix(1.5 0 0 1 13.46 543.35)" font-size="16.1" text-anchor="end">−</text>
<text transform="matrix(1.1800 0 0 1 14.06 505.05)" font-size="16.1">40</text>
<text transform="matrix(1.5 0 0 1 12.75 505.25)" font-size="16.1" text-anchor="end">−</text>
<text transform="matrix(1.1800 0 0 1 14.06 466.95)" font-size="16.1">30</text>
<text transform="matrix(1.5 0 0 1 13.27 467.15)" font-size="16.1" text-anchor="end">−</text>
<text transform="matrix(1.1800 0 0 1 14.06 428.85)" font-size="16.1">20</text>
<text transform="matrix(1.5 0 0 1 13.18 429.05)" font-size="16.1" text-anchor="end">−</text>
<text transform="matrix(1.1800 0 0 1 14.06 390.75)" font-size="16.1">10</text>
<text transform="matrix(1.5 0 0 1 14.03 390.95)" font-size="16.1" text-anchor="end">−</text>
<text transform="matrix(1.0000 0 0 1 120.68 353.40)" font-size="28.6" font-weight="bold" fill="#000">(</text>
<text transform="matrix(1.1625 0 0 1 129.84 355.00)" font-size="28.6" font-weight="bold" fill="#000">c</text>
<text transform="matrix(1.0000 0 0 1 144.61 353.40)" font-size="28.6" font-weight="bold" fill="#000">)</text>
<text transform="matrix(0.9186 0 0 1 166.23 354.90)" font-size="19.5" font-style="italic">ψ</text>
<text transform="matrix(0.8500 0 0 1 182.21 356.30)" font-size="21.8">[</text>
<text transform="matrix(1.0544 0 0 1 187.93 354.90)" font-size="17.5">m</text>
<text transform="matrix(1.1102 0 0 1 202.71 354.90)" font-size="17.5">V</text>
<text transform="matrix(0.8500 0 0 1 216.75 356.30)" font-size="21.8">]</text>
<path d="M445.4 366V594.6M493.3 366V594.6M541.2 366V594.6M589.1 366V594.6M637 366V594.6M397.5 544.05H684.85M397.5 480.55H684.85M397.5 417.05H684.85" stroke="#eaeaea" stroke-width="1.5" fill="none"/>
<path d="M421.45 366V594.6M469.35 366V594.6M517.25 366V594.6M565.15 366V594.6M613.05 366V594.6M660.95 366V594.6M397.5 575.8H684.85M397.5 512.3H684.85M397.5 448.8H684.85M397.5 385.3H684.85" stroke="#d2d2d2" stroke-width="1.65" fill="none"/>
<path d="M445.4 366v5.9 M445.4 594.6v-5.9M493.3 366v5.9 M493.3 594.6v-5.9M541.2 366v5.9 M541.2 594.6v-5.9M589.1 366v5.9 M589.1 594.6v-5.9M637 366v5.9 M637 594.6v-5.9M397.5 544.05h5.9 M684.85 544.05h-5.9M397.5 480.55h5.9 M684.85 480.55h-5.9M397.5 417.05h5.9 M684.85 417.05h-5.9M421.45 366v8.85 M421.45 594.6v-8.85M469.35 366v8.85 M469.35 594.6v-8.85M517.25 366v8.85 M517.25 594.6v-8.85M565.15 366v8.85 M565.15 594.6v-8.85M613.05 366v8.85 M613.05 594.6v-8.85M660.95 366v8.85 M660.95 594.6v-8.85M397.5 575.8h8.85 M684.85 575.8h-8.85M397.5 512.3h8.85 M684.85 512.3h-8.85M397.5 448.8h8.85 M684.85 448.8h-8.85M397.5 385.3h8.85 M684.85 385.3h-8.85" stroke="#6e6e6e" stroke-width="0.9" fill="none"/>
<path d="M421.3 507.67 L423.3 507.58 L425.3 507.47 L427.3 507.35 L429.3 507.2 L431.3 507.03 L433.3 506.84 L435.3 506.63 L437.3 506.4 L439.3 506.15 L441.3 505.89 L443.3 505.61 L445.3 505.31 L447.3 504.98 L449.3 504.63 L451.3 504.24 L453.3 503.81 L455.3 503.36 L457.3 502.87 L459.3 502.35 L461.3 501.8 L463.3 501.23 L465.3 500.63 L467.3 499.99 L469.3 499.32 L471.3 498.61 L473.3 497.86 L475.3 497.07 L477.3 496.25 L479.3 495.39 L481.3 494.51 L483.3 493.59 L485.3 492.65 L487.3 491.69 L489.3 490.69 L491.3 489.66 L493.3 488.6 L495.3 487.5 L497.3 486.37 L499.3 485.21 L501.3 484 L503.3 482.77 L505.3 481.51 L507.3 480.22 L509.3 478.9 L511.3 477.57 L513.3 476.21 L515.3 474.84 L517.3 473.46 L519.3 472.06 L521.3 470.63 L523.3 469.18 L525.3 467.68 L527.3 466.12 L529.3 464.51 L531.3 462.84 L533.3 461.13 L535.3 459.38 L537.3 457.6 L539.3 455.81 L541.3 454.02 L543.3 452.23 L545.3 450.45 L547.3 448.68 L549.3 446.92 L551.3 445.16 L553.3 443.4 L555.3 441.65 L557.3 439.9 L559.3 438.17 L561.3 436.46 L563.3 434.78 L565.3 433.13 L567.3 431.51 L569.3 429.92 L571.3 428.35 L573.3 426.8 L575.3 425.28 L577.3 423.8 L579.3 422.35 L581.3 420.95 L583.3 419.57 L585.3 418.24 L587.3 416.95 L589.3 415.72 L591.3 414.56 L593.3 413.47 L595.3 412.44 L597.3 411.47 L599.3 410.52 L601.3 409.6 L603.3 408.7 L605.3 407.79 L607.3 406.9 L609.3 406 L611.3 405.11 L613.3 404.23 L615.3 403.36 L617.3 402.49 L619.3 401.64 L621.3 400.79 L623.3 399.94 L625.3 399.11 L627.3 398.29 L629.3 397.47 L631.3 396.66 L633.3 395.85 L635.3 395.05 L637.3 394.26 L639.3 393.48 L641.3 392.7 L643.3 391.93 L645.3 391.16 L647.3 390.4 L649.3 389.64 L651.3 388.89 L653.3 388.15 L655.3 387.41 L657.3 386.68 L659.3 385.95 L660.8 385.41" stroke="#000" stroke-width="1.35" fill="none" stroke-linejoin="round"/>
<path d="M421.2 580.6 L442.2 577.6 L461.2 570.6 L478.2 560.6 L493 548.6 L506.2 536 L517 523.2 L526 511.4 L533 501.4 L538 493.6 L541 489.4 L544 484.8 L549 476.8 L556 467 L564.8 455 L575.8 442 L588.8 429 L603.6 416.2 L620.6 404.2 L639.6 393.6 L660.6 385.4" stroke="#000" stroke-width="1.25" fill="none" stroke-linejoin="round"/>
<circle cx="421.2" cy="580.6" r="2.9" fill="none" stroke="#000" stroke-width="1.45"/>
<circle cx="442.2" cy="577.6" r="2.9" fill="none" stroke="#000" stroke-width="1.45"/>
<circle cx="461.2" cy="570.6" r="2.9" fill="none" stroke="#000" stroke-width="1.45"/>
<circle cx="478.2" cy="560.6" r="2.9" fill="none" stroke="#000" stroke-width="1.45"/>
<circle cx="493" cy="548.6" r="2.9" fill="none" stroke="#000" stroke-width="1.45"/>
<circle cx="506.2" cy="536" r="2.9" fill="none" stroke="#000" stroke-width="1.45"/>
<circle cx="517" cy="523.2" r="2.9" fill="none" stroke="#000" stroke-width="1.45"/>
<circle cx="526" cy="511.4" r="2.9" fill="none" stroke="#000" stroke-width="1.45"/>
<circle cx="533" cy="501.4" r="2.9" fill="none" stroke="#000" stroke-width="1.45"/>
<circle cx="538" cy="493.6" r="2.9" fill="none" stroke="#000" stroke-width="1.45"/>
<circle cx="541" cy="489.4" r="2.9" fill="none" stroke="#000" stroke-width="1.45"/>
<circle cx="544" cy="484.8" r="2.9" fill="none" stroke="#000" stroke-width="1.45"/>
<circle cx="549" cy="476.8" r="2.9" fill="none" stroke="#000" stroke-width="1.45"/>
<circle cx="556" cy="467" r="2.9" fill="none" stroke="#000" stroke-width="1.45"/>
<circle cx="564.8" cy="455" r="2.9" fill="none" stroke="#000" stroke-width="1.45"/>
<circle cx="575.8" cy="442" r="2.9" fill="none" stroke="#000" stroke-width="1.45"/>
<circle cx="588.8" cy="429" r="2.9" fill="none" stroke="#000" stroke-width="1.45"/>
<circle cx="603.6" cy="416.2" r="2.9" fill="none" stroke="#000" stroke-width="1.45"/>
<circle cx="620.6" cy="404.2" r="2.9" fill="none" stroke="#000" stroke-width="1.45"/>
<circle cx="639.6" cy="393.6" r="2.9" fill="none" stroke="#000" stroke-width="1.45"/>
<circle cx="660.6" cy="385.4" r="2.9" fill="none" stroke="#000" stroke-width="1.45"/>
<path d="M421.2 491.6 L442.2 490.2 L461.2 486 L478.2 480.4 L493 473.8 L506.2 466.6 L517 459.6 L526 453.8 L533 449 L538 445.6 L541 443.6 L544 441.4 L549 437.6 L556 433.4 L564.8 428.2 L575.8 422 L588.8 415.2 L603.6 408.2 L620.6 400.8 L639.6 393.2 L660.6 385.4" stroke="#000" stroke-width="1.5" fill="none" stroke-linejoin="round"/>
<circle cx="421.2" cy="491.6" r="3.65"/>
<circle cx="442.2" cy="490.2" r="3.65"/>
<circle cx="461.2" cy="486" r="3.65"/>
<circle cx="478.2" cy="480.4" r="3.65"/>
<circle cx="493" cy="473.8" r="3.65"/>
<circle cx="506.2" cy="466.6" r="3.65"/>
<circle cx="517" cy="459.6" r="3.65"/>
<circle cx="526" cy="453.8" r="3.65"/>
<circle cx="533" cy="449" r="3.65"/>
<circle cx="538" cy="445.6" r="3.65"/>
<circle cx="541" cy="443.6" r="3.65"/>
<circle cx="544" cy="441.4" r="3.65"/>
<circle cx="549" cy="437.6" r="3.65"/>
<circle cx="556" cy="433.4" r="3.65"/>
<circle cx="564.8" cy="428.2" r="3.65"/>
<circle cx="575.8" cy="422" r="3.65"/>
<circle cx="588.8" cy="415.2" r="3.65"/>
<circle cx="603.6" cy="408.2" r="3.65"/>
<circle cx="620.6" cy="400.8" r="3.65"/>
<circle cx="639.6" cy="393.2" r="3.65"/>
<circle cx="660.6" cy="385.4" r="3.65"/>
<rect x="397.5" y="366" width="287.35" height="228.6" fill="none" stroke="#181818" stroke-width="1.45"/>
<text transform="matrix(1.1800 0 0 1 409.58 613.10)" font-size="16.1">0.0</text>
<text transform="matrix(1.1800 0 0 1 457.64 613.10)" font-size="16.1">0.2</text>
<text transform="matrix(1.1800 0 0 1 505.16 613.10)" font-size="16.1">0.4</text>
<text transform="matrix(1.1800 0 0 1 553.21 613.10)" font-size="16.1">0.6</text>
<text transform="matrix(1.1800 0 0 1 601.18 613.10)" font-size="16.1">0.8</text>
<text transform="matrix(1.1800 0 0 1 648.60 613.10)" font-size="16.1">1.0</text>
<text transform="matrix(1.1686 0 0 1 517.28 639.30)" font-size="17.4" font-style="italic">R</text>
<text transform="matrix(1.1295 0 0 1 530.77 643.30)" font-size="26.8">/</text>
<text transform="matrix(1.1877 0 0 1 540.88 639.30)" font-size="17.4" font-style="italic">R</text>
<text transform="matrix(1.4769 0 0 1 553.45 634.00)" font-size="11.2">cl</text>
<text transform="matrix(1.1800 0 0 1 367.21 581.25)" font-size="16.1">1.5</text>
<text transform="matrix(1.5 0 0 1 367.18 581.45)" font-size="16.1" text-anchor="end">−</text>
<text transform="matrix(1.1800 0 0 1 367.16 517.75)" font-size="16.1">1.0</text>
<text transform="matrix(1.5 0 0 1 367.13 517.95)" font-size="16.1" text-anchor="end">−</text>
<text transform="matrix(1.1800 0 0 1 367.21 454.25)" font-size="16.1">0.5</text>
<text transform="matrix(1.5 0 0 1 366.23 454.45)" font-size="16.1" text-anchor="end">−</text>
<text transform="matrix(1.1800 0 0 1 367.16 390.75)" font-size="16.1">0.0</text>
<text transform="matrix(1.0000 0 0 1 471.98 353.40)" font-size="28.6" font-weight="bold" fill="#000">(</text>
<text transform="matrix(1.2394 0 0 1 481.58 355.00)" font-size="28.6" font-weight="bold" fill="#000">d</text>
<text transform="matrix(1.0000 0 0 1 500.11 353.40)" font-size="28.6" font-weight="bold" fill="#000">)</text>
<text transform="matrix(0.9186 0 0 1 520.33 354.90)" font-size="19.5" font-style="italic">ψ</text>
<text transform="matrix(1.7027 0 0 1 533.02 348.80)" font-size="10">e</text>
<text transform="matrix(0.8500 0 0 1 545.11 356.30)" font-size="21.8">[</text>
<text transform="matrix(1.0544 0 0 1 550.43 354.90)" font-size="17.5">m</text>
<text transform="matrix(1.0857 0 0 1 565.51 354.90)" font-size="17.5">V</text>
<text transform="matrix(0.8500 0 0 1 579.35 356.30)" font-size="21.8">]</text>
<path d="M87.55 694V922.6M135.45 694V922.6M183.35 694V922.6M231.25 694V922.6M279.15 694V922.6M39.65 882.88H327M39.65 840.53H327M39.65 798.18H327M39.65 755.83H327M39.65 713.48H327" stroke="#eaeaea" stroke-width="1.5" fill="none"/>
<path d="M63.6 694V922.6M111.5 694V922.6M159.4 694V922.6M207.3 694V922.6M255.2 694V922.6M303.1 694V922.6M39.65 904.06H327M39.65 861.71H327M39.65 819.36H327M39.65 777.01H327M39.65 734.66H327" stroke="#d2d2d2" stroke-width="1.65" fill="none"/>
<path d="M87.55 694v5.9 M87.55 922.6v-5.9M135.45 694v5.9 M135.45 922.6v-5.9M183.35 694v5.9 M183.35 922.6v-5.9M231.25 694v5.9 M231.25 922.6v-5.9M279.15 694v5.9 M279.15 922.6v-5.9M39.65 882.88h5.9 M327 882.88h-5.9M39.65 840.53h5.9 M327 840.53h-5.9M39.65 798.18h5.9 M327 798.18h-5.9M39.65 755.83h5.9 M327 755.83h-5.9M39.65 713.48h5.9 M327 713.48h-5.9M63.6 694v8.85 M63.6 922.6v-8.85M111.5 694v8.85 M111.5 922.6v-8.85M159.4 694v8.85 M159.4 922.6v-8.85M207.3 694v8.85 M207.3 922.6v-8.85M255.2 694v8.85 M255.2 922.6v-8.85M303.1 694v8.85 M303.1 922.6v-8.85M39.65 904.06h8.85 M327 904.06h-8.85M39.65 861.71h8.85 M327 861.71h-8.85M39.65 819.36h8.85 M327 819.36h-8.85M39.65 777.01h8.85 M327 777.01h-8.85M39.65 734.66h8.85 M327 734.66h-8.85" stroke="#6e6e6e" stroke-width="0.9" fill="none"/>
<path d="M65 740.32 L67 740.38 L69 740.46 L71 740.54 L73 740.64 L75 740.76 L77 740.9 L79 741.06 L81 741.24 L83 741.44 L85 741.65 L87 741.88 L89 742.13 L91 742.41 L93 742.72 L95 743.07 L97 743.46 L99 743.91 L101 744.4 L103 744.95 L105 745.54 L107 746.17 L109 746.84 L111 747.56 L113 748.33 L115 749.14 L117 750.02 L119 750.95 L121 751.94 L123 753 L125 754.13 L127 755.34 L129 756.63 L131 758.01 L133 759.5 L135 761.11 L137 762.84 L139 764.7 L141 766.7 L143 768.84 L145 771.1 L147 773.5 L149 776.02 L151 778.67 L153 781.45 L155 784.33 L157 787.31 L159 790.35 L161 793.45 L163 796.6 L165 799.81 L167 803.08 L169 806.45 L171 809.96 L173 813.62 L175 817.45 L177 821.43 L179 825.49 L181 829.55 L183 833.54 L185 837.4 L187 841.12 L189 844.71 L191 848.15 L193 851.43 L195 854.51 L197 857.34 L199 859.93 L201 862.3 L203 864.46 L205 866.46 L207 868.31 L209 870.04 L211 871.65 L213 873.16 L215 874.57 L217 875.89 L219 877.11 L221 878.23 L223 879.27 L225 880.23 L227 881.11 L229 881.93 L231 882.67 L233 883.36 L235 883.99 L237 884.57 L239 885.11 L241 885.61 L243 886.07 L245 886.49 L247 886.87 L249 887.23 L251 887.55 L253 887.85 L255 888.12 L257 888.36 L259 888.57 L261 888.75 L263 888.91 L265 889.03 L267 889.14 L269 889.24 L271 889.32 L273 889.39 L275 889.44 L277 889.49 L279 889.53 L281 889.55 L283 889.57 L285 889.57 L287 889.56 L289 889.55 L291 889.52 L293 889.49 L295 889.45 L297 889.4 L299 889.34 L301 889.27 L303 889.2" stroke="#000" stroke-width="1.35" fill="none" stroke-linejoin="round"/>
<path d="M65 840.4 L85.6 841.2 L104.6 842.8 L121.4 845 L136.2 847.6 L149.2 850.2 L160 852.6 L168.8 854.4 L175.6 855.6 L180.6 856 L183.6 856 L186.8 855.8 L191.8 855.2 L198.8 855.4 L207.8 857.4 L219 859.4 L232 861.2 L247.2 863 L264.4 864 L283.2 864 L303.2 863.4" stroke="#000" stroke-width="1.25" fill="none" stroke-linejoin="round"/>
<circle cx="65" cy="840.4" r="2.9" fill="none" stroke="#000" stroke-width="1.45"/>
<circle cx="85.6" cy="841.2" r="2.9" fill="none" stroke="#000" stroke-width="1.45"/>
<circle cx="104.6" cy="842.8" r="2.9" fill="none" stroke="#000" stroke-width="1.45"/>
<circle cx="121.4" cy="845" r="2.9" fill="none" stroke="#000" stroke-width="1.45"/>
<circle cx="136.2" cy="847.6" r="2.9" fill="none" stroke="#000" stroke-width="1.45"/>
<circle cx="149.2" cy="850.2" r="2.9" fill="none" stroke="#000" stroke-width="1.45"/>
<circle cx="160" cy="852.6" r="2.9" fill="none" stroke="#000" stroke-width="1.45"/>
<circle cx="168.8" cy="854.4" r="2.9" fill="none" stroke="#000" stroke-width="1.45"/>
<circle cx="175.6" cy="855.6" r="2.9" fill="none" stroke="#000" stroke-width="1.45"/>
<circle cx="180.6" cy="856" r="2.9" fill="none" stroke="#000" stroke-width="1.45"/>
<circle cx="183.6" cy="856" r="2.9" fill="none" stroke="#000" stroke-width="1.45"/>
<circle cx="186.8" cy="855.8" r="2.9" fill="none" stroke="#000" stroke-width="1.45"/>
<circle cx="191.8" cy="855.2" r="2.9" fill="none" stroke="#000" stroke-width="1.45"/>
<circle cx="198.8" cy="855.4" r="2.9" fill="none" stroke="#000" stroke-width="1.45"/>
<circle cx="207.8" cy="857.4" r="2.9" fill="none" stroke="#000" stroke-width="1.45"/>
<circle cx="219" cy="859.4" r="2.9" fill="none" stroke="#000" stroke-width="1.45"/>
<circle cx="232" cy="861.2" r="2.9" fill="none" stroke="#000" stroke-width="1.45"/>
<circle cx="247.2" cy="863" r="2.9" fill="none" stroke="#000" stroke-width="1.45"/>
<circle cx="264.4" cy="864" r="2.9" fill="none" stroke="#000" stroke-width="1.45"/>
<circle cx="283.2" cy="864" r="2.9" fill="none" stroke="#000" stroke-width="1.45"/>
<path d="M65 729.4 L85.6 728.8 L104.6 728 L121.4 728 L136.2 730.4 L149.2 738.4 L160 753.4 L168.8 774.4 L175.6 797 L180.6 814.6 L183.6 825.6 L186.8 836.2 L191.8 851 L198.8 865.4 L207.8 877 L219 885.8 L232 891.2 L247.2 894.2 L264.4 895.8 L283.2 896.2 L303.2 895.6" stroke="#000" stroke-width="1.5" fill="none" stroke-linejoin="round"/>
<circle cx="65" cy="729.4" r="3.65"/>
<circle cx="85.6" cy="728.8" r="3.65"/>
<circle cx="104.6" cy="728" r="3.65"/>
<circle cx="121.4" cy="728" r="3.65"/>
<circle cx="136.2" cy="730.4" r="3.65"/>
<circle cx="149.2" cy="738.4" r="3.65"/>
<circle cx="160" cy="753.4" r="3.65"/>
<circle cx="168.8" cy="774.4" r="3.65"/>
<circle cx="175.6" cy="797" r="3.65"/>
<circle cx="180.6" cy="814.6" r="3.65"/>
<circle cx="183.6" cy="825.6" r="3.65"/>
<circle cx="186.8" cy="836.2" r="3.65"/>
<circle cx="191.8" cy="851" r="3.65"/>
<circle cx="198.8" cy="865.4" r="3.65"/>
<circle cx="207.8" cy="877" r="3.65"/>
<circle cx="219" cy="885.8" r="3.65"/>
<circle cx="232" cy="891.2" r="3.65"/>
<circle cx="247.2" cy="894.2" r="3.65"/>
<circle cx="264.4" cy="895.8" r="3.65"/>
<circle cx="283.2" cy="896.2" r="3.65"/>
<rect x="39.65" y="694" width="287.35" height="228.6" fill="none" stroke="#181818" stroke-width="1.45"/>
<text transform="matrix(1.1800 0 0 1 51.73 941.10)" font-size="16.1">0.0</text>
<text transform="matrix(1.1800 0 0 1 99.79 941.10)" font-size="16.1">0.2</text>
<text transform="matrix(1.1800 0 0 1 147.31 941.10)" font-size="16.1">0.4</text>
<text transform="matrix(1.1800 0 0 1 195.36 941.10)" font-size="16.1">0.6</text>
<text transform="matrix(1.1800 0 0 1 243.33 941.10)" font-size="16.1">0.8</text>
<text transform="matrix(1.1800 0 0 1 290.75 941.10)" font-size="16.1">1.0</text>
<text transform="matrix(1.1686 0 0 1 159.43 967.30)" font-size="17.4" font-style="italic">R</text>
<text transform="matrix(1.1295 0 0 1 172.92 971.30)" font-size="26.8">/</text>
<text transform="matrix(1.1877 0 0 1 183.03 967.30)" font-size="17.4" font-style="italic">R</text>
<text transform="matrix(1.4769 0 0 1 195.60 962.00)" font-size="11.2">cl</text>
<text transform="matrix(1.1800 0 0 1 23.56 909.51)" font-size="16.1">0</text>
<text transform="matrix(1.1800 0 0 1 14.06 867.16)" font-size="16.1">10</text>
<text transform="matrix(1.1800 0 0 1 14.06 824.81)" font-size="16.1">20</text>
<text transform="matrix(1.1800 0 0 1 14.06 782.46)" font-size="16.1">30</text>
<text transform="matrix(1.1800 0 0 1 14.06 740.11)" font-size="16.1">40</text>
<text transform="matrix(1.0000 0 0 1 71.68 681.40)" font-size="28.6" font-weight="bold" fill="#000">(</text>
<text transform="matrix(1.1792 0 0 1 81.02 683.00)" font-size="28.6" font-weight="bold" fill="#000">e</text>
<text transform="matrix(1.0000 0 0 1 96.11 681.40)" font-size="28.6" font-weight="bold" fill="#000">)</text>
<text transform="matrix(1.0000 0 0 1 117.57 682.70)" font-size="19.6">(</text>
<text transform="matrix(1.2000 0 0 1 123.69 683.00)" font-size="18.4" font-style="italic">C</text>
<text transform="matrix(1.3937 0 0 1 138.60 685.40)" font-size="10">w</text>
<text transform="matrix(1.5054 0 0 1 154.60 684.00)" font-size="16">−</text>
<text transform="matrix(1.2000 0 0 1 172.89 683.00)" font-size="18.4" font-style="italic">C</text>
<text transform="matrix(1.2144 0 0 1 188.14 677.30)" font-size="12.4">0</text>
<text transform="matrix(1.3798 0 0 1 187.90 687.70)" font-size="10">w</text>
<text transform="matrix(1.0000 0 0 1 200.06 682.70)" font-size="19.6">)</text>
<text transform="matrix(1.0139 0 0 1 207.60 686.60)" font-size="26.3">/</text>
<text transform="matrix(1.2000 0 0 1 215.79 683.00)" font-size="18.4" font-style="italic">C</text>
<text transform="matrix(1.2713 0 0 1 230.51 677.30)" font-size="12.4">0</text>
<text transform="matrix(1.3798 0 0 1 230.30 687.70)" font-size="10">w</text>
<text transform="matrix(0.8500 0 0 1 245.61 684.30)" font-size="21.8">[</text>
<text transform="matrix(0.9251 0 0 1 250.57 683.70)" font-size="19.5">%</text>
<text transform="matrix(0.8500 0 0 1 265.35 684.30)" font-size="21.8">]</text>
<path d="M445.4 694V922.6M493.3 694V922.6M541.2 694V922.6M589.1 694V922.6M637 694V922.6M397.5 885H684.85M397.5 846.9H684.85M397.5 808.8H684.85M397.5 770.7H684.85M397.5 732.6H684.85M397.5 694.5H684.85" stroke="#eaeaea" stroke-width="1.5" fill="none"/>
<path d="M421.45 694V922.6M469.35 694V922.6M517.25 694V922.6M565.15 694V922.6M613.05 694V922.6M660.95 694V922.6M397.5 904.05H684.85M397.5 865.95H684.85M397.5 827.85H684.85M397.5 789.75H684.85M397.5 751.65H684.85M397.5 713.55H684.85" stroke="#d2d2d2" stroke-width="1.65" fill="none"/>
<path d="M445.4 694v5.9 M445.4 922.6v-5.9M493.3 694v5.9 M493.3 922.6v-5.9M541.2 694v5.9 M541.2 922.6v-5.9M589.1 694v5.9 M589.1 922.6v-5.9M637 694v5.9 M637 922.6v-5.9M397.5 885h5.9 M684.85 885h-5.9M397.5 846.9h5.9 M684.85 846.9h-5.9M397.5 808.8h5.9 M684.85 808.8h-5.9M397.5 770.7h5.9 M684.85 770.7h-5.9M397.5 732.6h5.9 M684.85 732.6h-5.9M397.5 694.5h5.9 M684.85 694.5h-5.9M421.45 694v8.85 M421.45 922.6v-8.85M469.35 694v8.85 M469.35 922.6v-8.85M517.25 694v8.85 M517.25 922.6v-8.85M565.15 694v8.85 M565.15 922.6v-8.85M613.05 694v8.85 M613.05 922.6v-8.85M660.95 694v8.85 M660.95 922.6v-8.85M397.5 904.05h8.85 M684.85 904.05h-8.85M397.5 865.95h8.85 M684.85 865.95h-8.85M397.5 827.85h8.85 M684.85 827.85h-8.85M397.5 789.75h8.85 M684.85 789.75h-8.85M397.5 751.65h8.85 M684.85 751.65h-8.85M397.5 713.55h8.85 M684.85 713.55h-8.85" stroke="#6e6e6e" stroke-width="0.9" fill="none"/>
<path d="M421.3 858.26 L423.3 858.19 L425.3 858.1 L427.3 857.99 L429.3 857.85 L431.3 857.68 L433.3 857.49 L435.3 857.28 L437.3 857.04 L439.3 856.78 L441.3 856.51 L443.3 856.21 L445.3 855.89 L447.3 855.54 L449.3 855.15 L451.3 854.72 L453.3 854.24 L455.3 853.73 L457.3 853.17 L459.3 852.58 L461.3 851.95 L463.3 851.3 L465.3 850.61 L467.3 849.89 L469.3 849.13 L471.3 848.33 L473.3 847.48 L475.3 846.58 L477.3 845.63 L479.3 844.64 L481.3 843.6 L483.3 842.53 L485.3 841.42 L487.3 840.28 L489.3 839.11 L491.3 837.92 L493.3 836.7 L495.3 835.44 L497.3 834.15 L499.3 832.83 L501.3 831.48 L503.3 830.12 L505.3 828.74 L507.3 827.35 L509.3 825.94 L511.3 824.53 L513.3 823.09 L515.3 821.63 L517.3 820.14 L519.3 818.61 L521.3 817.05 L523.3 815.44 L525.3 813.8 L527.3 812.11 L529.3 810.39 L531.3 808.65 L533.3 806.89 L535.3 805.12 L537.3 803.31 L539.3 801.47 L541.3 799.57 L543.3 797.62 L545.3 795.62 L547.3 793.59 L549.3 791.54 L551.3 789.5 L553.3 787.49 L555.3 785.52 L557.3 783.59 L559.3 781.71 L561.3 779.86 L563.3 778.04 L565.3 776.25 L567.3 774.47 L569.3 772.71 L571.3 770.99 L573.3 769.3 L575.3 767.67 L577.3 766.1 L579.3 764.59 L581.3 763.12 L583.3 761.69 L585.3 760.29 L587.3 758.89 L589.3 757.51 L591.3 756.14 L593.3 754.78 L595.3 753.43 L597.3 752.1 L599.3 750.77 L601.3 749.46 L603.3 748.15 L605.3 746.85 L607.3 745.55 L609.3 744.26 L611.3 742.98 L613.3 741.71 L615.3 740.45 L617.3 739.21 L619.3 737.97 L621.3 736.76 L623.3 735.56 L625.3 734.37 L627.3 733.2 L629.3 732.04 L631.3 730.88 L633.3 729.73 L635.3 728.58 L637.3 727.42 L639.3 726.27 L641.3 725.1 L643.3 723.94 L645.3 722.76 L647.3 721.59 L649.3 720.41 L651.3 719.23 L653.3 718.05 L655.3 716.86 L657.3 715.68 L659.3 714.49 L660.8 713.6" stroke="#000" stroke-width="1.35" fill="none" stroke-linejoin="round"/>
<path d="M421.2 908.6 L442.2 906.4 L461.2 901 L478.2 893 L493 883.6 L506.2 873.2 L517 862.4 L526 852.4 L533 843.2 L538 836.4 L541 832.4 L544 828.4 L549 820.6 L556 811 L564.8 799 L575.8 785.4 L588.8 770.4 L603.6 755.4 L620.6 740.4 L639.6 726.4 L660.6 713.6" stroke="#000" stroke-width="1.25" fill="none" stroke-linejoin="round"/>
<circle cx="421.2" cy="908.6" r="2.9" fill="none" stroke="#000" stroke-width="1.45"/>
<circle cx="442.2" cy="906.4" r="2.9" fill="none" stroke="#000" stroke-width="1.45"/>
<circle cx="461.2" cy="901" r="2.9" fill="none" stroke="#000" stroke-width="1.45"/>
<circle cx="478.2" cy="893" r="2.9" fill="none" stroke="#000" stroke-width="1.45"/>
<circle cx="493" cy="883.6" r="2.9" fill="none" stroke="#000" stroke-width="1.45"/>
<circle cx="506.2" cy="873.2" r="2.9" fill="none" stroke="#000" stroke-width="1.45"/>
<circle cx="517" cy="862.4" r="2.9" fill="none" stroke="#000" stroke-width="1.45"/>
<circle cx="526" cy="852.4" r="2.9" fill="none" stroke="#000" stroke-width="1.45"/>
<circle cx="533" cy="843.2" r="2.9" fill="none" stroke="#000" stroke-width="1.45"/>
<circle cx="538" cy="836.4" r="2.9" fill="none" stroke="#000" stroke-width="1.45"/>
<circle cx="541" cy="832.4" r="2.9" fill="none" stroke="#000" stroke-width="1.45"/>
<circle cx="544" cy="828.4" r="2.9" fill="none" stroke="#000" stroke-width="1.45"/>
<circle cx="549" cy="820.6" r="2.9" fill="none" stroke="#000" stroke-width="1.45"/>
<circle cx="556" cy="811" r="2.9" fill="none" stroke="#000" stroke-width="1.45"/>
<circle cx="564.8" cy="799" r="2.9" fill="none" stroke="#000" stroke-width="1.45"/>
<circle cx="575.8" cy="785.4" r="2.9" fill="none" stroke="#000" stroke-width="1.45"/>
<circle cx="588.8" cy="770.4" r="2.9" fill="none" stroke="#000" stroke-width="1.45"/>
<circle cx="603.6" cy="755.4" r="2.9" fill="none" stroke="#000" stroke-width="1.45"/>
<circle cx="620.6" cy="740.4" r="2.9" fill="none" stroke="#000" stroke-width="1.45"/>
<circle cx="639.6" cy="726.4" r="2.9" fill="none" stroke="#000" stroke-width="1.45"/>
<circle cx="660.6" cy="713.6" r="2.9" fill="none" stroke="#000" stroke-width="1.45"/>
<path d="M421.2 847.6 L442.2 846 L461.2 841.4 L478.2 835 L493 827.2 L506.2 819.2 L517 811.6 L526 804.2 L533 798.6 L538 794.4 L541 791.8 L544 789.4 L549 785.8 L556 780.6 L564.8 774.2 L575.8 766.2 L588.8 757.6 L603.6 747.6 L620.6 736.8 L639.6 725.8 L660.6 713.6" stroke="#000" stroke-width="1.5" fill="none" stroke-linejoin="round"/>
<circle cx="421.2" cy="847.6" r="3.65"/>
<circle cx="442.2" cy="846" r="3.65"/>
<circle cx="461.2" cy="841.4" r="3.65"/>
<circle cx="478.2" cy="835" r="3.65"/>
<circle cx="493" cy="827.2" r="3.65"/>
<circle cx="506.2" cy="819.2" r="3.65"/>
<circle cx="517" cy="811.6" r="3.65"/>
<circle cx="526" cy="804.2" r="3.65"/>
<circle cx="533" cy="798.6" r="3.65"/>
<circle cx="538" cy="794.4" r="3.65"/>
<circle cx="541" cy="791.8" r="3.65"/>
<circle cx="544" cy="789.4" r="3.65"/>
<circle cx="549" cy="785.8" r="3.65"/>
<circle cx="556" cy="780.6" r="3.65"/>
<circle cx="564.8" cy="774.2" r="3.65"/>
<circle cx="575.8" cy="766.2" r="3.65"/>
<circle cx="588.8" cy="757.6" r="3.65"/>
<circle cx="603.6" cy="747.6" r="3.65"/>
<circle cx="620.6" cy="736.8" r="3.65"/>
<circle cx="639.6" cy="725.8" r="3.65"/>
<circle cx="660.6" cy="713.6" r="3.65"/>
<rect x="397.5" y="694" width="287.35" height="228.6" fill="none" stroke="#181818" stroke-width="1.45"/>
<text transform="matrix(1.1800 0 0 1 409.58 941.10)" font-size="16.1">0.0</text>
<text transform="matrix(1.1800 0 0 1 457.64 941.10)" font-size="16.1">0.2</text>
<text transform="matrix(1.1800 0 0 1 505.16 941.10)" font-size="16.1">0.4</text>
<text transform="matrix(1.1800 0 0 1 553.21 941.10)" font-size="16.1">0.6</text>
<text transform="matrix(1.1800 0 0 1 601.18 941.10)" font-size="16.1">0.8</text>
<text transform="matrix(1.1800 0 0 1 648.60 941.10)" font-size="16.1">1.0</text>
<text transform="matrix(1.1686 0 0 1 517.28 967.30)" font-size="17.4" font-style="italic">R</text>
<text transform="matrix(1.1295 0 0 1 530.77 971.30)" font-size="26.8">/</text>
<text transform="matrix(1.1877 0 0 1 540.88 967.30)" font-size="17.4" font-style="italic">R</text>
<text transform="matrix(1.4769 0 0 1 553.45 962.00)" font-size="11.2">cl</text>
<text transform="matrix(1.1800 0 0 1 371.96 909.50)" font-size="16.1">25</text>
<text transform="matrix(1.5 0 0 1 371.08 909.70)" font-size="16.1" text-anchor="end">−</text>
<text transform="matrix(1.1800 0 0 1 371.91 871.40)" font-size="16.1">20</text>
<text transform="matrix(1.5 0 0 1 371.03 871.60)" font-size="16.1" text-anchor="end">−</text>
<text transform="matrix(1.1800 0 0 1 371.96 833.30)" font-size="16.1">15</text>
<text transform="matrix(1.5 0 0 1 371.93 833.50)" font-size="16.1" text-anchor="end">−</text>
<text transform="matrix(1.1800 0 0 1 371.91 795.20)" font-size="16.1">10</text>
<text transform="matrix(1.5 0 0 1 371.88 795.40)" font-size="16.1" text-anchor="end">−</text>
<text transform="matrix(1.1800 0 0 1 381.46 757.10)" font-size="16.1">5</text>
<text transform="matrix(1.5 0 0 1 380.86 757.30)" font-size="16.1" text-anchor="end">−</text>
<text transform="matrix(1.1800 0 0 1 381.41 719.00)" font-size="16.1">0</text>
<text transform="matrix(1.0000 0 0 1 418.68 681.40)" font-size="28.6" font-weight="bold" fill="#000">(</text>
<text transform="matrix(1.2838 0 0 1 428.72 683.00)" font-size="28.6" font-weight="bold" fill="#000">f</text>
<text transform="matrix(1.0000 0 0 1 440.01 681.40)" font-size="28.6" font-weight="bold" fill="#000">)</text>
<text transform="matrix(1.0000 0 0 1 464.07 682.70)" font-size="19.6">(</text>
<text transform="matrix(1.2000 0 0 1 470.19 683.00)" font-size="18.4" font-style="italic">C</text>
<text transform="matrix(1.7838 0 0 1 484.89 675.50)" font-size="10">e</text>
<text transform="matrix(1.3240 0 0 1 485.60 685.40)" font-size="10">w</text>
<text transform="matrix(1.5188 0 0 1 500.98 684.00)" font-size="16">−</text>
<text transform="matrix(1.2000 0 0 1 519.29 683.00)" font-size="18.4" font-style="italic">C</text>
<text transform="matrix(1.7838 0 0 1 533.89 675.50)" font-size="10">e</text>
<text transform="matrix(1.4667 0 0 1 542.85 675.80)" font-size="10">,</text>
<text transform="matrix(1.6399 0 0 1 546.79 675.40)" font-size="9.9">0</text>
<text transform="matrix(1.3240 0 0 1 534.60 685.40)" font-size="10">w</text>
<text transform="matrix(1.0000 0 0 1 557.16 682.70)" font-size="19.6">)</text>
<text transform="matrix(1.0139 0 0 1 564.60 686.60)" font-size="26.3">/</text>
<text transform="matrix(1.2000 0 0 1 572.29 683.00)" font-size="18.4" font-style="italic">C</text>
<text transform="matrix(1.7838 0 0 1 586.99 675.50)" font-size="10">e</text>
<text transform="matrix(1.4667 0 0 1 595.85 675.80)" font-size="10">,</text>
<text transform="matrix(1.6399 0 0 1 599.79 675.40)" font-size="9.9">0</text>
<text transform="matrix(1.3240 0 0 1 587.70 685.40)" font-size="10">w</text>
<text transform="matrix(0.8500 0 0 1 613.51 684.30)" font-size="21.8">[</text>
<text transform="matrix(0.8916 0 0 1 618.49 683.70)" font-size="19.5">%</text>
<text transform="matrix(0.8500 0 0 1 632.65 684.30)" font-size="21.8">]</text>
<path d="M87.55 1022V1250.6M135.45 1022V1250.6M183.35 1022V1250.6M231.25 1022V1250.6M279.15 1022V1250.6M39.65 1208.4H327M39.65 1160.82H327M39.65 1113.23H327M39.65 1065.63H327" stroke="#eaeaea" stroke-width="1.5" fill="none"/>
<path d="M63.6 1022V1250.6M111.5 1022V1250.6M159.4 1022V1250.6M207.3 1022V1250.6M255.2 1022V1250.6M303.1 1022V1250.6M39.65 1232.2H327M39.65 1184.61H327M39.65 1137.02H327M39.65 1089.43H327M39.65 1041.84H327" stroke="#d2d2d2" stroke-width="1.65" fill="none"/>
<path d="M87.55 1022v5.9 M87.55 1250.6v-5.9M135.45 1022v5.9 M135.45 1250.6v-5.9M183.35 1022v5.9 M183.35 1250.6v-5.9M231.25 1022v5.9 M231.25 1250.6v-5.9M279.15 1022v5.9 M279.15 1250.6v-5.9M39.65 1208.4h5.9 M327 1208.4h-5.9M39.65 1160.82h5.9 M327 1160.82h-5.9M39.65 1113.23h5.9 M327 1113.23h-5.9M39.65 1065.63h5.9 M327 1065.63h-5.9M63.6 1022v8.85 M63.6 1250.6v-8.85M111.5 1022v8.85 M111.5 1250.6v-8.85M159.4 1022v8.85 M159.4 1250.6v-8.85M207.3 1022v8.85 M207.3 1250.6v-8.85M255.2 1022v8.85 M255.2 1250.6v-8.85M303.1 1022v8.85 M303.1 1250.6v-8.85M39.65 1232.2h8.85 M327 1232.2h-8.85M39.65 1184.61h8.85 M327 1184.61h-8.85M39.65 1137.02h8.85 M327 1137.02h-8.85M39.65 1089.43h8.85 M327 1089.43h-8.85M39.65 1041.84h8.85 M327 1041.84h-8.85" stroke="#6e6e6e" stroke-width="0.9" fill="none"/>
<path d="M63.6 1062.42 L65.6 1062.46 L67.6 1062.52 L69.6 1062.58 L71.6 1062.66 L73.6 1062.75 L75.6 1062.86 L77.6 1062.98 L79.6 1063.12 L81.6 1063.28 L83.6 1063.45 L85.6 1063.64 L87.6 1063.85 L89.6 1064.07 L91.6 1064.31 L93.6 1064.57 L95.6 1064.84 L97.6 1065.14 L99.6 1065.46 L101.6 1065.8 L103.6 1066.17 L105.6 1066.57 L107.6 1067.01 L109.6 1067.5 L111.6 1068.05 L113.6 1068.66 L115.6 1069.35 L117.6 1070.11 L119.6 1070.94 L121.6 1071.85 L123.6 1072.84 L125.6 1073.91 L127.6 1075.07 L129.6 1076.32 L131.6 1077.67 L133.6 1079.13 L135.6 1080.71 L137.6 1082.39 L139.6 1084.2 L141.6 1086.11 L143.6 1088.12 L145.6 1090.23 L147.6 1092.42 L149.6 1094.71 L151.6 1097.09 L153.6 1099.59 L155.6 1102.22 L157.6 1105.02 L159.6 1108.01 L161.6 1111.2 L163.6 1114.6 L165.6 1118.2 L167.6 1121.97 L169.6 1125.85 L171.6 1129.8 L173.6 1133.77 L175.6 1137.74 L177.6 1141.72 L179.6 1145.75 L181.6 1149.88 L183.6 1154.12 L185.6 1158.46 L187.6 1162.81 L189.6 1167.09 L191.6 1171.19 L193.6 1175.02 L195.6 1178.56 L197.6 1181.82 L199.6 1184.83 L201.6 1187.63 L203.6 1190.23 L205.6 1192.64 L207.6 1194.88 L209.6 1196.93 L211.6 1198.82 L213.6 1200.57 L215.6 1202.18 L217.6 1203.68 L219.6 1205.09 L221.6 1206.4 L223.6 1207.64 L225.6 1208.8 L227.6 1209.89 L229.6 1210.91 L231.6 1211.86 L233.6 1212.75 L235.6 1213.59 L237.6 1214.36 L239.6 1215.07 L241.6 1215.72 L243.6 1216.31 L245.6 1216.84 L247.6 1217.31 L249.6 1217.74 L251.6 1218.12 L253.6 1218.46 L255.6 1218.77 L257.6 1219.04 L259.6 1219.28 L261.6 1219.5 L263.6 1219.7 L265.6 1219.88 L267.6 1220.05 L269.6 1220.2 L271.6 1220.34 L273.6 1220.46 L275.6 1220.56 L277.6 1220.64 L279.6 1220.7 L281.6 1220.73 L283.6 1220.75 L285.6 1220.75 L287.6 1220.74 L289.6 1220.72 L291.6 1220.68 L293.6 1220.62 L295.6 1220.56 L297.6 1220.48 L299.6 1220.38 L301.6 1220.27 L303.1 1220.19" stroke="#000" stroke-width="1.35" fill="none" stroke-linejoin="round"/>
<path d="M63.4 1157.8 L84.4 1158.4 L103.4 1160 L120.4 1162.6 L135.4 1165.6 L148.4 1168.8 L159.4 1171.8 L168.4 1174.4 L175.2 1175.8 L180.2 1176 L183.2 1175.8 L186.4 1175.4 L191.4 1175 L198.4 1175.2 L207.4 1177.4 L218.4 1180 L231.4 1182.2 L246.2 1184.2 L263.2 1185.4 L282.2 1185.6 L303.2 1184.8" stroke="#000" stroke-width="1.25" fill="none" stroke-linejoin="round"/>
<circle cx="63.4" cy="1157.8" r="2.9" fill="none" stroke="#000" stroke-width="1.45"/>
<circle cx="84.4" cy="1158.4" r="2.9" fill="none" stroke="#000" stroke-width="1.45"/>
<circle cx="103.4" cy="1160" r="2.9" fill="none" stroke="#000" stroke-width="1.45"/>
<circle cx="120.4" cy="1162.6" r="2.9" fill="none" stroke="#000" stroke-width="1.45"/>
<circle cx="135.4" cy="1165.6" r="2.9" fill="none" stroke="#000" stroke-width="1.45"/>
<circle cx="148.4" cy="1168.8" r="2.9" fill="none" stroke="#000" stroke-width="1.45"/>
<circle cx="159.4" cy="1171.8" r="2.9" fill="none" stroke="#000" stroke-width="1.45"/>
<circle cx="168.4" cy="1174.4" r="2.9" fill="none" stroke="#000" stroke-width="1.45"/>
<circle cx="175.2" cy="1175.8" r="2.9" fill="none" stroke="#000" stroke-width="1.45"/>
<circle cx="180.2" cy="1176" r="2.9" fill="none" stroke="#000" stroke-width="1.45"/>
<circle cx="183.2" cy="1175.8" r="2.9" fill="none" stroke="#000" stroke-width="1.45"/>
<circle cx="186.4" cy="1175.4" r="2.9" fill="none" stroke="#000" stroke-width="1.45"/>
<circle cx="191.4" cy="1175" r="2.9" fill="none" stroke="#000" stroke-width="1.45"/>
<circle cx="198.4" cy="1175.2" r="2.9" fill="none" stroke="#000" stroke-width="1.45"/>
<circle cx="207.4" cy="1177.4" r="2.9" fill="none" stroke="#000" stroke-width="1.45"/>
<circle cx="218.4" cy="1180" r="2.9" fill="none" stroke="#000" stroke-width="1.45"/>
<circle cx="231.4" cy="1182.2" r="2.9" fill="none" stroke="#000" stroke-width="1.45"/>
<circle cx="246.2" cy="1184.2" r="2.9" fill="none" stroke="#000" stroke-width="1.45"/>
<circle cx="263.2" cy="1185.4" r="2.9" fill="none" stroke="#000" stroke-width="1.45"/>
<circle cx="282.2" cy="1185.6" r="2.9" fill="none" stroke="#000" stroke-width="1.45"/>
<circle cx="303.2" cy="1184.8" r="2.9" fill="none" stroke="#000" stroke-width="1.45"/>
<path d="M63.4 1053.6 L84.4 1053.2 L103.4 1052.6 L120.4 1052.6 L135.4 1054.2 L148.4 1059.8 L159.4 1071.8 L168.4 1089.8 L175.2 1110.2 L180.2 1129.2 L183.2 1140.8 L186.4 1152.4 L191.4 1169 L198.4 1187.2 L207.4 1203 L218.4 1214.6 L231.4 1222.2 L246.2 1227 L263.2 1229.4 L282.2 1229.8 L303.2 1228.8" stroke="#000" stroke-width="1.5" fill="none" stroke-linejoin="round"/>
<circle cx="63.4" cy="1053.6" r="3.65"/>
<circle cx="84.4" cy="1053.2" r="3.65"/>
<circle cx="103.4" cy="1052.6" r="3.65"/>
<circle cx="120.4" cy="1052.6" r="3.65"/>
<circle cx="135.4" cy="1054.2" r="3.65"/>
<circle cx="148.4" cy="1059.8" r="3.65"/>
<circle cx="159.4" cy="1071.8" r="3.65"/>
<circle cx="168.4" cy="1089.8" r="3.65"/>
<circle cx="175.2" cy="1110.2" r="3.65"/>
<circle cx="180.2" cy="1129.2" r="3.65"/>
<circle cx="183.2" cy="1140.8" r="3.65"/>
<circle cx="186.4" cy="1152.4" r="3.65"/>
<circle cx="191.4" cy="1169" r="3.65"/>
<circle cx="198.4" cy="1187.2" r="3.65"/>
<circle cx="207.4" cy="1203" r="3.65"/>
<circle cx="218.4" cy="1214.6" r="3.65"/>
<circle cx="231.4" cy="1222.2" r="3.65"/>
<circle cx="246.2" cy="1227" r="3.65"/>
<circle cx="263.2" cy="1229.4" r="3.65"/>
<circle cx="282.2" cy="1229.8" r="3.65"/>
<circle cx="303.2" cy="1228.8" r="3.65"/>
<rect x="39.65" y="1022" width="287.35" height="228.6" fill="none" stroke="#181818" stroke-width="1.45"/>
<text transform="matrix(1.1800 0 0 1 51.73 1269.10)" font-size="16.1">0.0</text>
<text transform="matrix(1.1800 0 0 1 99.79 1269.10)" font-size="16.1">0.2</text>
<text transform="matrix(1.1800 0 0 1 147.31 1269.10)" font-size="16.1">0.4</text>
<text transform="matrix(1.1800 0 0 1 195.36 1269.10)" font-size="16.1">0.6</text>
<text transform="matrix(1.1800 0 0 1 243.33 1269.10)" font-size="16.1">0.8</text>
<text transform="matrix(1.1800 0 0 1 290.75 1269.10)" font-size="16.1">1.0</text>
<text transform="matrix(1.1686 0 0 1 159.43 1295.30)" font-size="17.4" font-style="italic">R</text>
<text transform="matrix(1.1295 0 0 1 172.92 1299.30)" font-size="26.8">/</text>
<text transform="matrix(1.1877 0 0 1 183.03 1295.30)" font-size="17.4" font-style="italic">R</text>
<text transform="matrix(1.4769 0 0 1 195.60 1290.00)" font-size="11.2">cl</text>
<text transform="matrix(1.1800 0 0 1 23.56 1237.65)" font-size="16.1">0</text>
<text transform="matrix(1.1800 0 0 1 14.06 1190.06)" font-size="16.1">20</text>
<text transform="matrix(1.1800 0 0 1 14.06 1142.47)" font-size="16.1">40</text>
<text transform="matrix(1.1800 0 0 1 14.06 1094.88)" font-size="16.1">60</text>
<text transform="matrix(1.1800 0 0 1 14.06 1047.29)" font-size="16.1">80</text>
<text transform="matrix(1.0000 0 0 1 118.78 1009.40)" font-size="28.6" font-weight="bold" fill="#000">(</text>
<text transform="matrix(1.1429 0 0 1 128.48 1011.00)" font-size="28.6" font-weight="bold" fill="#000">g</text>
<text transform="matrix(1.0000 0 0 1 145.01 1009.40)" font-size="28.6" font-weight="bold" fill="#000">)</text>
<text transform="matrix(1.0259 0 0 1 167.10 1010.90)" font-size="17" font-style="italic">p</text>
<text transform="matrix(1.4077 0 0 1 176.60 1013.40)" font-size="10">w</text>
<text transform="matrix(0.8500 0 0 1 191.81 1012.30)" font-size="21.8">[</text>
<text transform="matrix(1.3294 0 0 1 196.46 1010.90)" font-size="17.5">P</text>
<text transform="matrix(1.0705 0 0 1 208.84 1010.90)" font-size="17.5">a</text>
<text transform="matrix(0.8500 0 0 1 217.15 1012.30)" font-size="21.8">]</text>
<path d="M445.4 1022V1250.6M493.3 1022V1250.6M541.2 1022V1250.6M589.1 1022V1250.6M637 1022V1250.6M397.5 1200.6H684.85M397.5 1137.1H684.85M397.5 1073.6H684.85" stroke="#eaeaea" stroke-width="1.5" fill="none"/>
<path d="M421.45 1022V1250.6M469.35 1022V1250.6M517.25 1022V1250.6M565.15 1022V1250.6M613.05 1022V1250.6M660.95 1022V1250.6M397.5 1232.35H684.85M397.5 1168.85H684.85M397.5 1105.35H684.85M397.5 1041.85H684.85" stroke="#d2d2d2" stroke-width="1.65" fill="none"/>
<path d="M445.4 1022v5.9 M445.4 1250.6v-5.9M493.3 1022v5.9 M493.3 1250.6v-5.9M541.2 1022v5.9 M541.2 1250.6v-5.9M589.1 1022v5.9 M589.1 1250.6v-5.9M637 1022v5.9 M637 1250.6v-5.9M397.5 1200.6h5.9 M684.85 1200.6h-5.9M397.5 1137.1h5.9 M684.85 1137.1h-5.9M397.5 1073.6h5.9 M684.85 1073.6h-5.9M421.45 1022v8.85 M421.45 1250.6v-8.85M469.35 1022v8.85 M469.35 1250.6v-8.85M517.25 1022v8.85 M517.25 1250.6v-8.85M565.15 1022v8.85 M565.15 1250.6v-8.85M613.05 1022v8.85 M613.05 1250.6v-8.85M660.95 1022v8.85 M660.95 1250.6v-8.85M397.5 1232.35h8.85 M684.85 1232.35h-8.85M397.5 1168.85h8.85 M684.85 1168.85h-8.85M397.5 1105.35h8.85 M684.85 1105.35h-8.85M397.5 1041.85h8.85 M684.85 1041.85h-8.85" stroke="#6e6e6e" stroke-width="0.9" fill="none"/>
<path d="M422.6 1062.63 L424.6 1062.71 L426.6 1062.81 L428.6 1062.93 L430.6 1063.07 L432.6 1063.23 L434.6 1063.41 L436.6 1063.61 L438.6 1063.83 L440.6 1064.07 L442.6 1064.32 L444.6 1064.6 L446.6 1064.91 L448.6 1065.25 L450.6 1065.62 L452.6 1066.04 L454.6 1066.5 L456.6 1067.01 L458.6 1067.57 L460.6 1068.17 L462.6 1068.83 L464.6 1069.52 L466.6 1070.25 L468.6 1071.01 L470.6 1071.8 L472.6 1072.62 L474.6 1073.47 L476.6 1074.38 L478.6 1075.34 L480.6 1076.38 L482.6 1077.49 L484.6 1078.7 L486.6 1080.01 L488.6 1081.42 L490.6 1082.96 L492.6 1084.63 L494.6 1086.44 L496.6 1088.4 L498.6 1090.5 L500.6 1092.74 L502.6 1095.09 L504.6 1097.55 L506.6 1100.11 L508.6 1102.77 L510.6 1105.52 L512.6 1108.36 L514.6 1111.31 L516.6 1114.36 L518.6 1117.52 L520.6 1120.78 L522.6 1124.14 L524.6 1127.6 L526.6 1131.16 L528.6 1134.81 L530.6 1138.55 L532.6 1142.36 L534.6 1146.24 L536.6 1150.17 L538.6 1154.13 L540.6 1158.08 L542.6 1161.99 L544.6 1165.81 L546.6 1169.48 L548.6 1172.95 L550.6 1176.18 L552.6 1179.14 L554.6 1181.83 L556.6 1184.28 L558.6 1186.5 L560.6 1188.56 L562.6 1190.47 L564.6 1192.27 L566.6 1193.99 L568.6 1195.65 L570.6 1197.25 L572.6 1198.77 L574.6 1200.23 L576.6 1201.62 L578.6 1202.92 L580.6 1204.15 L582.6 1205.3 L584.6 1206.37 L586.6 1207.37 L588.6 1208.29 L590.6 1209.14 L592.6 1209.93 L594.6 1210.66 L596.6 1211.34 L598.6 1211.97 L600.6 1212.56 L602.6 1213.1 L604.6 1213.59 L606.6 1214.05 L608.6 1214.47 L610.6 1214.86 L612.6 1215.22 L614.6 1215.55 L616.6 1215.85 L618.6 1216.12 L620.6 1216.35 L622.6 1216.56 L624.6 1216.74 L626.6 1216.91 L628.6 1217.05 L630.6 1217.18 L632.6 1217.29 L634.6 1217.38 L636.6 1217.45 L638.6 1217.5 L640.6 1217.53 L642.6 1217.54 L644.6 1217.52 L646.6 1217.49 L648.6 1217.44 L650.6 1217.37 L652.6 1217.28 L654.6 1217.18 L656.6 1217.06 L658.6 1216.92 L660.6 1216.78" stroke="#000" stroke-width="1.35" fill="none" stroke-linejoin="round"/>
<path d="M422.6 1166.4 L443.4 1167.2 L462.4 1169 L479.2 1171.2 L493.8 1174 L507 1176.6 L517.8 1179.4 L526.6 1181.4 L533.4 1182.4 L538.2 1182.6 L541.2 1182.4 L544.4 1182 L549.6 1181.6 L556.6 1182 L565.6 1183.8 L576.8 1186.2 L589.8 1188 L605 1189.4 L622.2 1190.4 L641 1190.6 L660.6 1190" stroke="#000" stroke-width="1.25" fill="none" stroke-linejoin="round"/>
<circle cx="422.6" cy="1166.4" r="2.9" fill="none" stroke="#000" stroke-width="1.45"/>
<circle cx="443.4" cy="1167.2" r="2.9" fill="none" stroke="#000" stroke-width="1.45"/>
<circle cx="462.4" cy="1169" r="2.9" fill="none" stroke="#000" stroke-width="1.45"/>
<circle cx="479.2" cy="1171.2" r="2.9" fill="none" stroke="#000" stroke-width="1.45"/>
<circle cx="493.8" cy="1174" r="2.9" fill="none" stroke="#000" stroke-width="1.45"/>
<circle cx="507" cy="1176.6" r="2.9" fill="none" stroke="#000" stroke-width="1.45"/>
<circle cx="517.8" cy="1179.4" r="2.9" fill="none" stroke="#000" stroke-width="1.45"/>
<circle cx="526.6" cy="1181.4" r="2.9" fill="none" stroke="#000" stroke-width="1.45"/>
<circle cx="533.4" cy="1182.4" r="2.9" fill="none" stroke="#000" stroke-width="1.45"/>
<circle cx="538.2" cy="1182.6" r="2.9" fill="none" stroke="#000" stroke-width="1.45"/>
<circle cx="541.2" cy="1182.4" r="2.9" fill="none" stroke="#000" stroke-width="1.45"/>
<circle cx="544.4" cy="1182" r="2.9" fill="none" stroke="#000" stroke-width="1.45"/>
<circle cx="549.6" cy="1181.6" r="2.9" fill="none" stroke="#000" stroke-width="1.45"/>
<circle cx="556.6" cy="1182" r="2.9" fill="none" stroke="#000" stroke-width="1.45"/>
<circle cx="565.6" cy="1183.8" r="2.9" fill="none" stroke="#000" stroke-width="1.45"/>
<circle cx="576.8" cy="1186.2" r="2.9" fill="none" stroke="#000" stroke-width="1.45"/>
<circle cx="589.8" cy="1188" r="2.9" fill="none" stroke="#000" stroke-width="1.45"/>
<circle cx="605" cy="1189.4" r="2.9" fill="none" stroke="#000" stroke-width="1.45"/>
<circle cx="622.2" cy="1190.4" r="2.9" fill="none" stroke="#000" stroke-width="1.45"/>
<circle cx="641" cy="1190.6" r="2.9" fill="none" stroke="#000" stroke-width="1.45"/>
<path d="M422.6 1050.6 L443.4 1050 L462.4 1049.2 L479.2 1049.2 L493.8 1051.8 L507 1060 L517.8 1075.6 L526.6 1097.4 L533.4 1120.6 L538.2 1139.6 L541.2 1151 L544.4 1162 L549.6 1177 L556.6 1192.4 L565.6 1204.4 L576.8 1213.6 L589.8 1219.2 L605 1222.2 L622.2 1223.8 L641 1224.2 L660.6 1223.4" stroke="#000" stroke-width="1.5" fill="none" stroke-linejoin="round"/>
<circle cx="422.6" cy="1050.6" r="3.65"/>
<circle cx="443.4" cy="1050" r="3.65"/>
<circle cx="462.4" cy="1049.2" r="3.65"/>
<circle cx="479.2" cy="1049.2" r="3.65"/>
<circle cx="493.8" cy="1051.8" r="3.65"/>
<circle cx="507" cy="1060" r="3.65"/>
<circle cx="517.8" cy="1075.6" r="3.65"/>
<circle cx="526.6" cy="1097.4" r="3.65"/>
<circle cx="533.4" cy="1120.6" r="3.65"/>
<circle cx="538.2" cy="1139.6" r="3.65"/>
<circle cx="541.2" cy="1151" r="3.65"/>
<circle cx="544.4" cy="1162" r="3.65"/>
<circle cx="549.6" cy="1177" r="3.65"/>
<circle cx="556.6" cy="1192.4" r="3.65"/>
<circle cx="565.6" cy="1204.4" r="3.65"/>
<circle cx="576.8" cy="1213.6" r="3.65"/>
<circle cx="589.8" cy="1219.2" r="3.65"/>
<circle cx="605" cy="1222.2" r="3.65"/>
<circle cx="622.2" cy="1223.8" r="3.65"/>
<circle cx="641" cy="1224.2" r="3.65"/>
<rect x="397.5" y="1022" width="287.35" height="228.6" fill="none" stroke="#181818" stroke-width="1.45"/>
<text transform="matrix(1.1800 0 0 1 409.58 1269.10)" font-size="16.1">0.0</text>
<text transform="matrix(1.1800 0 0 1 457.64 1269.10)" font-size="16.1">0.2</text>
<text transform="matrix(1.1800 0 0 1 505.16 1269.10)" font-size="16.1">0.4</text>
<text transform="matrix(1.1800 0 0 1 553.21 1269.10)" font-size="16.1">0.6</text>
<text transform="matrix(1.1800 0 0 1 601.18 1269.10)" font-size="16.1">0.8</text>
<text transform="matrix(1.1800 0 0 1 648.60 1269.10)" font-size="16.1">1.0</text>
<text transform="matrix(1.1686 0 0 1 517.28 1295.30)" font-size="17.4" font-style="italic">R</text>
<text transform="matrix(1.1295 0 0 1 530.77 1299.30)" font-size="26.8">/</text>
<text transform="matrix(1.1877 0 0 1 540.88 1295.30)" font-size="17.4" font-style="italic">R</text>
<text transform="matrix(1.4769 0 0 1 553.45 1290.00)" font-size="11.2">cl</text>
<text transform="matrix(1.1800 0 0 1 367.16 1237.80)" font-size="16.1">1.0</text>
<text transform="matrix(1.1800 0 0 1 367.59 1174.30)" font-size="16.1">1.1</text>
<text transform="matrix(1.1800 0 0 1 367.50 1110.80)" font-size="16.1">1.2</text>
<text transform="matrix(1.1800 0 0 1 367.21 1047.30)" font-size="16.1">1.3</text>
<text transform="matrix(1.0000 0 0 1 484.78 1009.40)" font-size="28.6" font-weight="bold" fill="#000">(</text>
<text transform="matrix(1.2229 0 0 1 494.23 1011.00)" font-size="28.6" font-weight="bold" fill="#000">h</text>
<text transform="matrix(1.0000 0 0 1 513.11 1009.40)" font-size="28.6" font-weight="bold" fill="#000">)</text>
<text transform="matrix(1.0463 0 0 1 533.91 1010.90)" font-size="18.4" font-style="italic">J</text>
<text transform="matrix(0.8500 0 0 1 548.61 1012.30)" font-size="21.8">[</text>
<text transform="matrix(1.5591 0 0 1 553.45 1012.00)" font-size="16">−</text>
<text transform="matrix(0.8500 0 0 1 567.05 1012.30)" font-size="21.8">]</text>
<path d="M87.55 1350V1578.6M135.45 1350V1578.6M183.35 1350V1578.6M231.25 1350V1578.6M279.15 1350V1578.6M39.65 1528.6H327M39.65 1465.1H327M39.65 1401.6H327" stroke="#eaeaea" stroke-width="1.5" fill="none"/>
<path d="M63.6 1350V1578.6M111.5 1350V1578.6M159.4 1350V1578.6M207.3 1350V1578.6M255.2 1350V1578.6M303.1 1350V1578.6M39.65 1560.35H327M39.65 1496.85H327M39.65 1433.35H327M39.65 1369.85H327" stroke="#d2d2d2" stroke-width="1.65" fill="none"/>
<path d="M87.55 1350v5.9 M87.55 1578.6v-5.9M135.45 1350v5.9 M135.45 1578.6v-5.9M183.35 1350v5.9 M183.35 1578.6v-5.9M231.25 1350v5.9 M231.25 1578.6v-5.9M279.15 1350v5.9 M279.15 1578.6v-5.9M39.65 1528.6h5.9 M327 1528.6h-5.9M39.65 1465.1h5.9 M327 1465.1h-5.9M39.65 1401.6h5.9 M327 1401.6h-5.9M63.6 1350v8.85 M63.6 1578.6v-8.85M111.5 1350v8.85 M111.5 1578.6v-8.85M159.4 1350v8.85 M159.4 1578.6v-8.85M207.3 1350v8.85 M207.3 1578.6v-8.85M255.2 1350v8.85 M255.2 1578.6v-8.85M303.1 1350v8.85 M303.1 1578.6v-8.85M39.65 1560.35h8.85 M327 1560.35h-8.85M39.65 1496.85h8.85 M327 1496.85h-8.85M39.65 1433.35h8.85 M327 1433.35h-8.85M39.65 1369.85h8.85 M327 1369.85h-8.85" stroke="#6e6e6e" stroke-width="0.9" fill="none"/>
<path d="M65 1381.22 L67 1381.25 L69 1381.29 L71 1381.34 L73 1381.41 L75 1381.48 L77 1381.58 L79 1381.68 L81 1381.8 L83 1381.93 L85 1382.07 L87 1382.24 L89 1382.44 L91 1382.68 L93 1382.95 L95 1383.28 L97 1383.67 L99 1384.11 L101 1384.61 L103 1385.16 L105 1385.77 L107 1386.42 L109 1387.12 L111 1387.88 L113 1388.68 L115 1389.54 L117 1390.46 L119 1391.43 L121 1392.45 L123 1393.53 L125 1394.66 L127 1395.85 L129 1397.12 L131 1398.49 L133 1399.97 L135 1401.58 L137 1403.35 L139 1405.28 L141 1407.34 L143 1409.53 L145 1411.81 L147 1414.16 L149 1416.58 L151 1419.06 L153 1421.62 L155 1424.3 L157 1427.12 L159 1430.12 L161 1433.29 L163 1436.64 L165 1440.14 L167 1443.75 L169 1447.41 L171 1451.09 L173 1454.75 L175 1458.4 L177 1462.03 L179 1465.65 L181 1469.26 L183 1472.88 L185 1476.47 L187 1480 L189 1483.41 L191 1486.66 L193 1489.69 L195 1492.48 L197 1495.04 L199 1497.37 L201 1499.52 L203 1501.5 L205 1503.38 L207 1505.16 L209 1506.88 L211 1508.54 L213 1510.14 L215 1511.67 L217 1513.12 L219 1514.48 L221 1515.74 L223 1516.92 L225 1518.02 L227 1519.03 L229 1519.98 L231 1520.86 L233 1521.68 L235 1522.44 L237 1523.16 L239 1523.83 L241 1524.45 L243 1525.02 L245 1525.55 L247 1526.03 L249 1526.47 L251 1526.87 L253 1527.24 L255 1527.57 L257 1527.88 L259 1528.15 L261 1528.38 L263 1528.59 L265 1528.77 L267 1528.92 L269 1529.06 L271 1529.17 L273 1529.28 L275 1529.36 L277 1529.43 L279 1529.49 L281 1529.53 L283 1529.55 L285 1529.55 L287 1529.54 L289 1529.52 L291 1529.48 L293 1529.43 L295 1529.37 L297 1529.29 L299 1529.2 L301 1529.1 L303 1529" stroke="#000" stroke-width="1.35" fill="none" stroke-linejoin="round"/>
<path d="M65 1480.4 L85.6 1481 L104.6 1482.6 L121.4 1484.8 L136.2 1487.4 L149.2 1490 L160 1492.6 L168.8 1494.6 L175.6 1495.8 L180.6 1496 L183.6 1495.8 L186.8 1495.4 L191.8 1495 L198.8 1495.4 L207.8 1497.4 L219 1499.4 L232 1501.2 L247.2 1502.8 L264.4 1503.6 L283.2 1503.8 L303.2 1503" stroke="#000" stroke-width="1.25" fill="none" stroke-linejoin="round"/>
<circle cx="65" cy="1480.4" r="2.9" fill="none" stroke="#000" stroke-width="1.45"/>
<circle cx="85.6" cy="1481" r="2.9" fill="none" stroke="#000" stroke-width="1.45"/>
<circle cx="104.6" cy="1482.6" r="2.9" fill="none" stroke="#000" stroke-width="1.45"/>
<circle cx="121.4" cy="1484.8" r="2.9" fill="none" stroke="#000" stroke-width="1.45"/>
<circle cx="136.2" cy="1487.4" r="2.9" fill="none" stroke="#000" stroke-width="1.45"/>
<circle cx="149.2" cy="1490" r="2.9" fill="none" stroke="#000" stroke-width="1.45"/>
<circle cx="160" cy="1492.6" r="2.9" fill="none" stroke="#000" stroke-width="1.45"/>
<circle cx="168.8" cy="1494.6" r="2.9" fill="none" stroke="#000" stroke-width="1.45"/>
<circle cx="175.6" cy="1495.8" r="2.9" fill="none" stroke="#000" stroke-width="1.45"/>
<circle cx="180.6" cy="1496" r="2.9" fill="none" stroke="#000" stroke-width="1.45"/>
<circle cx="183.6" cy="1495.8" r="2.9" fill="none" stroke="#000" stroke-width="1.45"/>
<circle cx="186.8" cy="1495.4" r="2.9" fill="none" stroke="#000" stroke-width="1.45"/>
<circle cx="191.8" cy="1495" r="2.9" fill="none" stroke="#000" stroke-width="1.45"/>
<circle cx="198.8" cy="1495.4" r="2.9" fill="none" stroke="#000" stroke-width="1.45"/>
<circle cx="207.8" cy="1497.4" r="2.9" fill="none" stroke="#000" stroke-width="1.45"/>
<circle cx="219" cy="1499.4" r="2.9" fill="none" stroke="#000" stroke-width="1.45"/>
<circle cx="232" cy="1501.2" r="2.9" fill="none" stroke="#000" stroke-width="1.45"/>
<circle cx="247.2" cy="1502.8" r="2.9" fill="none" stroke="#000" stroke-width="1.45"/>
<circle cx="264.4" cy="1503.6" r="2.9" fill="none" stroke="#000" stroke-width="1.45"/>
<circle cx="283.2" cy="1503.8" r="2.9" fill="none" stroke="#000" stroke-width="1.45"/>
<path d="M65 1369.4 L85.6 1369 L104.6 1368.2 L121.4 1368.2 L136.2 1370.4 L149.2 1378.2 L160 1392.4 L168.8 1413 L175.6 1435 L180.6 1453 L183.6 1463.6 L186.8 1474.4 L191.8 1489.4 L198.8 1504.4 L207.8 1516.4 L219 1525.4 L232 1530.8 L247.2 1534 L264.4 1535.6 L283.2 1535.8 L303.2 1535" stroke="#000" stroke-width="1.5" fill="none" stroke-linejoin="round"/>
<circle cx="65" cy="1369.4" r="3.65"/>
<circle cx="85.6" cy="1369" r="3.65"/>
<circle cx="104.6" cy="1368.2" r="3.65"/>
<circle cx="121.4" cy="1368.2" r="3.65"/>
<circle cx="136.2" cy="1370.4" r="3.65"/>
<circle cx="149.2" cy="1378.2" r="3.65"/>
<circle cx="160" cy="1392.4" r="3.65"/>
<circle cx="168.8" cy="1413" r="3.65"/>
<circle cx="175.6" cy="1435" r="3.65"/>
<circle cx="180.6" cy="1453" r="3.65"/>
<circle cx="183.6" cy="1463.6" r="3.65"/>
<circle cx="186.8" cy="1474.4" r="3.65"/>
<circle cx="191.8" cy="1489.4" r="3.65"/>
<circle cx="198.8" cy="1504.4" r="3.65"/>
<circle cx="207.8" cy="1516.4" r="3.65"/>
<circle cx="219" cy="1525.4" r="3.65"/>
<circle cx="232" cy="1530.8" r="3.65"/>
<circle cx="247.2" cy="1534" r="3.65"/>
<circle cx="264.4" cy="1535.6" r="3.65"/>
<circle cx="283.2" cy="1535.8" r="3.65"/>
<rect x="39.65" y="1350" width="287.35" height="228.6" fill="none" stroke="#181818" stroke-width="1.45"/>
<text transform="matrix(1.1800 0 0 1 51.73 1597.10)" font-size="16.1">0.0</text>
<text transform="matrix(1.1800 0 0 1 99.79 1597.10)" font-size="16.1">0.2</text>
<text transform="matrix(1.1800 0 0 1 147.31 1597.10)" font-size="16.1">0.4</text>
<text transform="matrix(1.1800 0 0 1 195.36 1597.10)" font-size="16.1">0.6</text>
<text transform="matrix(1.1800 0 0 1 243.33 1597.10)" font-size="16.1">0.8</text>
<text transform="matrix(1.1800 0 0 1 290.75 1597.10)" font-size="16.1">1.0</text>
<text transform="matrix(1.1686 0 0 1 159.43 1623.30)" font-size="17.4" font-style="italic">R</text>
<text transform="matrix(1.1295 0 0 1 172.92 1627.30)" font-size="26.8">/</text>
<text transform="matrix(1.1877 0 0 1 183.03 1623.30)" font-size="17.4" font-style="italic">R</text>
<text transform="matrix(1.4769 0 0 1 195.60 1618.00)" font-size="11.2">cl</text>
<text transform="matrix(1.1800 0 0 1 -0.18 1565.80)" font-size="16.1">1.00</text>
<text transform="matrix(1.1800 0 0 1 -0.14 1502.30)" font-size="16.1">1.05</text>
<text transform="matrix(1.1800 0 0 1 -0.18 1438.80)" font-size="16.1">1.10</text>
<text transform="matrix(1.1800 0 0 1 -0.14 1375.30)" font-size="16.1">1.15</text>
<text transform="matrix(1.0000 0 0 1 125.38 1337.40)" font-size="28.6" font-weight="bold" fill="#000">(</text>
<text transform="matrix(1.1509 0 0 1 135.56 1339.00)" font-size="28.6" font-weight="bold" fill="#000">i</text>
<text transform="matrix(1.0000 0 0 1 145.11 1337.40)" font-size="28.6" font-weight="bold" fill="#000">)</text>
<text transform="matrix(1.0463 0 0 1 170.11 1338.90)" font-size="18.4" font-style="italic">J</text>
<text transform="matrix(1.5949 0 0 1 179.84 1341.40)" font-size="10">a</text>
<text transform="matrix(0.8500 0 0 1 191.81 1340.30)" font-size="21.8">[</text>
<text transform="matrix(1.5860 0 0 1 196.83 1340.00)" font-size="16">−</text>
<text transform="matrix(0.8500 0 0 1 210.65 1340.30)" font-size="21.8">]</text>
<path d="M445.4 1350V1578.6M493.3 1350V1578.6M541.2 1350V1578.6M589.1 1350V1578.6M637 1350V1578.6M397.5 1533.3H684.85M397.5 1478.9H684.85M397.5 1424.5H684.85M397.5 1370.1H684.85" stroke="#eaeaea" stroke-width="1.5" fill="none"/>
<path d="M421.45 1350V1578.6M469.35 1350V1578.6M517.25 1350V1578.6M565.15 1350V1578.6M613.05 1350V1578.6M660.95 1350V1578.6M397.5 1560.5H684.85M397.5 1506.1H684.85M397.5 1451.7H684.85M397.5 1397.3H684.85" stroke="#d2d2d2" stroke-width="1.65" fill="none"/>
<path d="M445.4 1350v5.9 M445.4 1578.6v-5.9M493.3 1350v5.9 M493.3 1578.6v-5.9M541.2 1350v5.9 M541.2 1578.6v-5.9M589.1 1350v5.9 M589.1 1578.6v-5.9M637 1350v5.9 M637 1578.6v-5.9M397.5 1533.3h5.9 M684.85 1533.3h-5.9M397.5 1478.9h5.9 M684.85 1478.9h-5.9M397.5 1424.5h5.9 M684.85 1424.5h-5.9M397.5 1370.1h5.9 M684.85 1370.1h-5.9M421.45 1350v8.85 M421.45 1578.6v-8.85M469.35 1350v8.85 M469.35 1578.6v-8.85M517.25 1350v8.85 M517.25 1578.6v-8.85M565.15 1350v8.85 M565.15 1578.6v-8.85M613.05 1350v8.85 M613.05 1578.6v-8.85M660.95 1350v8.85 M660.95 1578.6v-8.85M397.5 1560.5h8.85 M684.85 1560.5h-8.85M397.5 1506.1h8.85 M684.85 1506.1h-8.85M397.5 1451.7h8.85 M684.85 1451.7h-8.85M397.5 1397.3h8.85 M684.85 1397.3h-8.85" stroke="#6e6e6e" stroke-width="0.9" fill="none"/>
<path d="M421.2 1560.61 L423.2 1557.42 L425.2 1554.24 L427.2 1551.06 L429.2 1547.89 L431.2 1544.72 L433.2 1541.56 L435.2 1538.4 L437.2 1535.26 L439.2 1532.11 L441.2 1528.97 L443.2 1525.84 L445.2 1522.7 L447.2 1519.58 L449.2 1516.46 L451.2 1513.35 L453.2 1510.25 L455.2 1507.17 L457.2 1504.12 L459.2 1501.09 L461.2 1498.09 L463.2 1495.11 L465.2 1492.17 L467.2 1489.25 L469.2 1486.35 L471.2 1483.49 L473.2 1480.66 L475.2 1477.85 L477.2 1475.09 L479.2 1472.35 L481.2 1469.65 L483.2 1466.98 L485.2 1464.34 L487.2 1461.72 L489.2 1459.12 L491.2 1456.53 L493.2 1453.95 L495.2 1451.38 L497.2 1448.83 L499.2 1446.31 L501.2 1443.81 L503.2 1441.36 L505.2 1438.97 L507.2 1436.63 L509.2 1434.36 L511.2 1432.18 L513.2 1430.09 L515.2 1428.1 L517.2 1426.23 L519.2 1424.46 L521.2 1422.8 L523.2 1421.23 L525.2 1419.75 L527.2 1418.35 L529.2 1417.04 L531.2 1415.84 L533.2 1414.76 L535.2 1413.8 L537.2 1412.97 L539.2 1412.26 L541.2 1411.66 L543.2 1411.16 L545.2 1410.76 L547.2 1410.43 L549.2 1410.18 L551.2 1409.99 L553.2 1409.86 L555.2 1409.79 L557.2 1409.77 L559.2 1409.81 L561.2 1409.89 L563.2 1410.03 L565.2 1410.21 L567.2 1410.43 L569.2 1410.7 L571.2 1411.01 L573.2 1411.34 L575.2 1411.69 L577.2 1412.05 L579.2 1412.42 L581.2 1412.79 L583.2 1413.16 L585.2 1413.53 L587.2 1413.9 L589.2 1414.27 L591.2 1414.64 L593.2 1415 L595.2 1415.36 L597.2 1415.71 L599.2 1416.05 L601.2 1416.38 L603.2 1416.68 L605.2 1416.98 L607.2 1417.25 L609.2 1417.51 L611.2 1417.76 L613.2 1418 L615.2 1418.22 L617.2 1418.44 L619.2 1418.64 L621.2 1418.83 L623.2 1419.01 L625.2 1419.19 L627.2 1419.36 L629.2 1419.52 L631.2 1419.67 L633.2 1419.8 L635.2 1419.93 L637.2 1420.05 L639.2 1420.15 L641.2 1420.24 L643.2 1420.33 L645.2 1420.41 L647.2 1420.48 L649.2 1420.55 L651.2 1420.61 L653.2 1420.66 L655.2 1420.7 L657.2 1420.74 L659.2 1420.77 L660.7 1420.79" stroke="#000" stroke-width="1.35" fill="none" stroke-linejoin="round"/>
<path d="M421.2 1560.6 L442.2 1546 L461.2 1532.6 L478.2 1521.4 L493 1512 L506.2 1504 L517 1498 L526 1493.2 L533 1489.8 L538 1487.4 L541 1486.2 L544 1484.8 L549 1481.6 L556 1477.6 L564.8 1472.8 L575.8 1467.4 L588.8 1461.2 L603.6 1454.4 L620.6 1447 L639.6 1438.2 L660.6 1428.8" stroke="#000" stroke-width="1.25" fill="none" stroke-linejoin="round"/>
<circle cx="421.2" cy="1560.6" r="2.9" fill="none" stroke="#000" stroke-width="1.45"/>
<circle cx="442.2" cy="1546" r="2.9" fill="none" stroke="#000" stroke-width="1.45"/>
<circle cx="461.2" cy="1532.6" r="2.9" fill="none" stroke="#000" stroke-width="1.45"/>
<circle cx="478.2" cy="1521.4" r="2.9" fill="none" stroke="#000" stroke-width="1.45"/>
<circle cx="493" cy="1512" r="2.9" fill="none" stroke="#000" stroke-width="1.45"/>
<circle cx="506.2" cy="1504" r="2.9" fill="none" stroke="#000" stroke-width="1.45"/>
<circle cx="517" cy="1498" r="2.9" fill="none" stroke="#000" stroke-width="1.45"/>
<circle cx="526" cy="1493.2" r="2.9" fill="none" stroke="#000" stroke-width="1.45"/>
<circle cx="533" cy="1489.8" r="2.9" fill="none" stroke="#000" stroke-width="1.45"/>
<circle cx="538" cy="1487.4" r="2.9" fill="none" stroke="#000" stroke-width="1.45"/>
<circle cx="541" cy="1486.2" r="2.9" fill="none" stroke="#000" stroke-width="1.45"/>
<circle cx="544" cy="1484.8" r="2.9" fill="none" stroke="#000" stroke-width="1.45"/>
<circle cx="549" cy="1481.6" r="2.9" fill="none" stroke="#000" stroke-width="1.45"/>
<circle cx="556" cy="1477.6" r="2.9" fill="none" stroke="#000" stroke-width="1.45"/>
<circle cx="564.8" cy="1472.8" r="2.9" fill="none" stroke="#000" stroke-width="1.45"/>
<circle cx="575.8" cy="1467.4" r="2.9" fill="none" stroke="#000" stroke-width="1.45"/>
<circle cx="588.8" cy="1461.2" r="2.9" fill="none" stroke="#000" stroke-width="1.45"/>
<circle cx="603.6" cy="1454.4" r="2.9" fill="none" stroke="#000" stroke-width="1.45"/>
<circle cx="620.6" cy="1447" r="2.9" fill="none" stroke="#000" stroke-width="1.45"/>
<circle cx="639.6" cy="1438.2" r="2.9" fill="none" stroke="#000" stroke-width="1.45"/>
<circle cx="660.6" cy="1428.8" r="2.9" fill="none" stroke="#000" stroke-width="1.45"/>
<path d="M421.2 1560.6 L442.2 1526 L461.2 1494.4 L478.2 1466 L493 1441.4 L506.2 1420.6 L517 1405.2 L526 1394.4 L533 1388.4 L538 1385.4 L541 1384.4 L544 1384 L549 1384.4 L556 1385.6 L564.8 1388.4 L575.8 1392.8 L588.8 1398.2 L603.6 1403.8 L620.6 1409.4 L639.6 1414.4 L660.6 1418" stroke="#000" stroke-width="1.5" fill="none" stroke-linejoin="round"/>
<circle cx="421.2" cy="1560.6" r="3.65"/>
<circle cx="442.2" cy="1526" r="3.65"/>
<circle cx="461.2" cy="1494.4" r="3.65"/>
<circle cx="478.2" cy="1466" r="3.65"/>
<circle cx="493" cy="1441.4" r="3.65"/>
<circle cx="506.2" cy="1420.6" r="3.65"/>
<circle cx="517" cy="1405.2" r="3.65"/>
<circle cx="526" cy="1394.4" r="3.65"/>
<circle cx="533" cy="1388.4" r="3.65"/>
<circle cx="538" cy="1385.4" r="3.65"/>
<circle cx="541" cy="1384.4" r="3.65"/>
<circle cx="544" cy="1384" r="3.65"/>
<circle cx="549" cy="1384.4" r="3.65"/>
<circle cx="556" cy="1385.6" r="3.65"/>
<circle cx="564.8" cy="1388.4" r="3.65"/>
<circle cx="575.8" cy="1392.8" r="3.65"/>
<circle cx="588.8" cy="1398.2" r="3.65"/>
<circle cx="603.6" cy="1403.8" r="3.65"/>
<circle cx="620.6" cy="1409.4" r="3.65"/>
<circle cx="639.6" cy="1414.4" r="3.65"/>
<circle cx="660.6" cy="1418" r="3.65"/>
<rect x="397.5" y="1350" width="287.35" height="228.6" fill="none" stroke="#181818" stroke-width="1.45"/>
<text transform="matrix(1.1800 0 0 1 409.58 1597.10)" font-size="16.1">0.0</text>
<text transform="matrix(1.1800 0 0 1 457.64 1597.10)" font-size="16.1">0.2</text>
<text transform="matrix(1.1800 0 0 1 505.16 1597.10)" font-size="16.1">0.4</text>
<text transform="matrix(1.1800 0 0 1 553.21 1597.10)" font-size="16.1">0.6</text>
<text transform="matrix(1.1800 0 0 1 601.18 1597.10)" font-size="16.1">0.8</text>
<text transform="matrix(1.1800 0 0 1 648.60 1597.10)" font-size="16.1">1.0</text>
<text transform="matrix(1.1686 0 0 1 517.28 1623.30)" font-size="17.4" font-style="italic">R</text>
<text transform="matrix(1.1295 0 0 1 530.77 1627.30)" font-size="26.8">/</text>
<text transform="matrix(1.1877 0 0 1 540.88 1623.30)" font-size="17.4" font-style="italic">R</text>
<text transform="matrix(1.4769 0 0 1 553.45 1618.00)" font-size="11.2">cl</text>
<text transform="matrix(1.1800 0 0 1 381.41 1565.95)" font-size="16.1">0</text>
<text transform="matrix(1.1800 0 0 1 381.46 1511.55)" font-size="16.1">5</text>
<text transform="matrix(1.1800 0 0 1 371.91 1457.15)" font-size="16.1">10</text>
<text transform="matrix(1.1800 0 0 1 371.96 1402.75)" font-size="16.1">15</text>
<text transform="matrix(1.0000 0 0 1 481.78 1337.40)" font-size="28.6" font-weight="bold" fill="#000">(</text>
<text transform="matrix(1.4364 0 0 1 489.81 1339.00)" font-size="28.6" font-weight="bold" fill="#000">j</text>
<text transform="matrix(1.0000 0 0 1 502.81 1337.40)" font-size="28.6" font-weight="bold" fill="#000">)</text>
<text transform="matrix(1.2473 0 0 1 525.24 1338.90)" font-size="17" font-style="italic">u</text>
<text transform="matrix(0.8500 0 0 1 539.81 1340.30)" font-size="21.8">[</text>
<text transform="matrix(1.1389 0 0 1 545.20 1338.90)" font-size="17" font-style="italic">μ</text>
<text transform="matrix(1.0774 0 0 1 554.82 1338.90)" font-size="17.5">m</text>
<text transform="matrix(0.8500 0 0 1 570.05 1340.30)" font-size="21.8">]</text>
<rect x="63.3" y="1648.8" width="606.8" height="33.1" fill="#fff" stroke="#1c1c1c" stroke-width="1.35"/>
<path d="M69.5 1665.75h34.9" stroke="#000" stroke-width="1.5"/>
<circle cx="87" cy="1665.75" r="3.85"/>
<text transform="matrix(1.1326 0 0 1 110.64 1671.50)" font-size="16.8" font-style="italic">D</text>
<text transform="matrix(1.3216 0 0 1 124.90 1674.10)" font-size="11.6">w</text>
<text transform="matrix(1.5344 0 0 1 141.98 1673.10)" font-size="18.5">=</text>
<text transform="matrix(1.0361 0 0 1 162.25 1671.60)" font-size="18.2">10</text>
<text transform="matrix(1.6487 0 0 1 182.01 1665.30)" font-size="12">−</text>
<text transform="matrix(1.4988 0 0 1 191.70 1665.60)" font-size="12.2">10</text>
<text transform="matrix(1.1063 0 0 1 215.73 1671.50)" font-size="16.8">m</text>
<text transform="matrix(1.3848 0 0 1 230.18 1665.60)" font-size="12.2">2</text>
<text transform="matrix(1.1559 0 0 1 240.40 1675.80)" font-size="26.5">/</text>
<text transform="matrix(1.0476 0 0 1 250.20 1671.50)" font-size="16.8">s</text>
<path d="M279.4 1665.75h34.9" stroke="#000" stroke-width="1.35"/>
<text transform="matrix(1.1326 0 0 1 320.54 1671.50)" font-size="16.8" font-style="italic">D</text>
<text transform="matrix(1.3216 0 0 1 334.80 1674.10)" font-size="11.6">w</text>
<text transform="matrix(1.5344 0 0 1 351.88 1673.10)" font-size="18.5">=</text>
<text transform="matrix(1.0361 0 0 1 372.15 1671.60)" font-size="18.2">10</text>
<text transform="matrix(1.6487 0 0 1 391.91 1665.30)" font-size="12">−</text>
<text transform="matrix(1.4955 0 0 1 402.61 1665.60)" font-size="12.2">9</text>
<text transform="matrix(1.1063 0 0 1 416.63 1671.50)" font-size="16.8">m</text>
<text transform="matrix(1.3848 0 0 1 431.08 1665.60)" font-size="12.2">2</text>
<text transform="matrix(1.1559 0 0 1 441.30 1675.80)" font-size="26.5">/</text>
<text transform="matrix(1.0476 0 0 1 451.10 1671.50)" font-size="16.8">s</text>
<path d="M481.4 1665.75h34.9" stroke="#000" stroke-width="1.25"/>
<circle cx="498.9" cy="1665.75" r="2.9" fill="none" stroke="#000" stroke-width="1.45"/>
<text transform="matrix(1.1326 0 0 1 522.44 1671.50)" font-size="16.8" font-style="italic">D</text>
<text transform="matrix(1.3216 0 0 1 536.70 1674.10)" font-size="11.6">w</text>
<text transform="matrix(1.5344 0 0 1 553.78 1673.10)" font-size="18.5">=</text>
<text transform="matrix(1.0361 0 0 1 574.05 1671.60)" font-size="18.2">10</text>
<text transform="matrix(1.6487 0 0 1 593.81 1665.30)" font-size="12">−</text>
<text transform="matrix(1.5043 0 0 1 604.41 1665.60)" font-size="12.2">8</text>
<text transform="matrix(1.1063 0 0 1 618.53 1671.50)" font-size="16.8">m</text>
<text transform="matrix(1.3848 0 0 1 632.98 1665.60)" font-size="12.2">2</text>
<text transform="matrix(1.1559 0 0 1 643.20 1675.80)" font-size="26.5">/</text>
<text transform="matrix(1.0476 0 0 1 653.00 1671.50)" font-size="16.8">s</text>
</svg>
</body></html>
